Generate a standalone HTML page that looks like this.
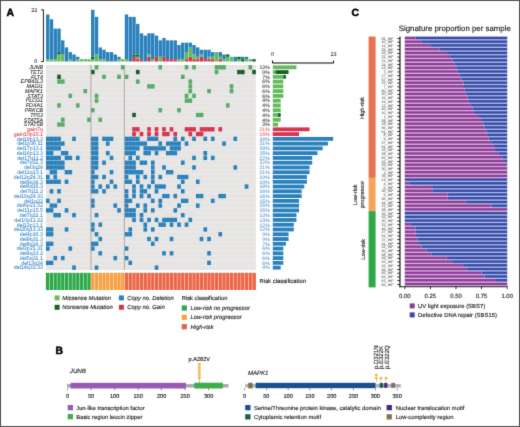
<!DOCTYPE html>
<html><head><meta charset="utf-8"><style>
html,body{margin:0;padding:0;background:#fff;}
svg{display:block;}
#w{width:520px;height:427px;overflow:hidden;will-change:transform;}
text{font-family:"Liberation Sans", sans-serif;text-rendering:geometricPrecision;}
</style></head><body>
<div id="w"><svg width="520" height="427" viewBox="0 0 520 427" font-family='"Liberation Sans", sans-serif'><defs><filter id="b" x="0" y="0" width="520" height="427" filterUnits="userSpaceOnUse" color-interpolation-filters="sRGB"><feConvolveMatrix order="3" kernelMatrix="0.0113 0.0838 0.0113 0.0838 0.6193 0.0838 0.0113 0.0838 0.0113" edgeMode="duplicate"/></filter></defs><g filter="url(#b)"><rect x="0" y="0" width="520" height="427" fill="#fff"/><text x="6.6" y="15.6" font-size="10.4" font-weight="bold" fill="#000" stroke="#000" stroke-width="0.5">A</text><text x="351.6" y="15.8" font-size="10.4" font-weight="bold" fill="#000" stroke="#000" stroke-width="0.5">C</text><text x="55.6" y="354.2" font-size="10.4" font-weight="bold" fill="#000" stroke="#000" stroke-width="0.5">B</text><path d="M41.2 9.8 H43.4 V61.5 H41.2" fill="none" stroke="#000" stroke-width="0.9"/><text x="37.3" y="11.9" font-size="5.4" text-anchor="end" fill="#1e1e1e" stroke="#1e1e1e" stroke-width="0.07">22</text><text x="37.3" y="63.4" font-size="5.4" text-anchor="end" fill="#1e1e1e" stroke="#1e1e1e" stroke-width="0.07">0</text><rect x="46.05" y="59.15" width="3.40" height="2.35" fill="#62bc5c"/><rect x="46.05" y="14.50" width="3.40" height="44.65" fill="#2a81bc"/><rect x="49.80" y="59.15" width="3.40" height="2.35" fill="#62bc5c"/><rect x="49.80" y="19.20" width="3.40" height="39.95" fill="#2a81bc"/><rect x="53.55" y="59.15" width="3.40" height="2.35" fill="#62bc5c"/><rect x="53.55" y="28.60" width="3.40" height="30.55" fill="#2a81bc"/><rect x="57.30" y="54.45" width="3.40" height="7.05" fill="#62bc5c"/><rect x="57.30" y="52.10" width="3.40" height="2.35" fill="#1b5e2a"/><rect x="57.30" y="28.60" width="3.40" height="23.50" fill="#2a81bc"/><rect x="61.05" y="54.45" width="3.40" height="7.05" fill="#62bc5c"/><rect x="61.05" y="40.35" width="3.40" height="14.10" fill="#2a81bc"/><rect x="64.80" y="47.40" width="3.40" height="14.10" fill="#2a81bc"/><rect x="68.55" y="59.15" width="3.40" height="2.35" fill="#62bc5c"/><rect x="68.55" y="52.10" width="3.40" height="7.05" fill="#2a81bc"/><rect x="72.30" y="54.45" width="3.40" height="7.05" fill="#2a81bc"/><rect x="76.05" y="59.15" width="3.40" height="2.35" fill="#62bc5c"/><rect x="76.05" y="56.80" width="3.40" height="2.35" fill="#2a81bc"/><rect x="79.80" y="59.15" width="3.40" height="2.35" fill="#62bc5c"/><rect x="83.55" y="59.15" width="3.40" height="2.35" fill="#62bc5c"/><rect x="87.30" y="59.15" width="3.40" height="2.35" fill="#62bc5c"/><rect x="91.05" y="59.15" width="3.40" height="2.35" fill="#62bc5c"/><rect x="91.05" y="56.80" width="3.40" height="2.35" fill="#1b5e2a"/><rect x="91.05" y="9.80" width="3.40" height="47.00" fill="#2a81bc"/><rect x="94.80" y="54.45" width="3.40" height="7.05" fill="#62bc5c"/><rect x="94.80" y="16.85" width="3.40" height="37.60" fill="#2a81bc"/><rect x="98.55" y="59.15" width="3.40" height="2.35" fill="#62bc5c"/><rect x="98.55" y="47.40" width="3.40" height="11.75" fill="#2a81bc"/><rect x="102.30" y="59.15" width="3.40" height="2.35" fill="#62bc5c"/><rect x="102.30" y="49.75" width="3.40" height="9.40" fill="#2a81bc"/><rect x="106.05" y="52.10" width="3.40" height="9.40" fill="#2a81bc"/><rect x="109.80" y="52.10" width="3.40" height="9.40" fill="#2a81bc"/><rect x="113.55" y="54.45" width="3.40" height="7.05" fill="#2a81bc"/><rect x="117.30" y="59.15" width="3.40" height="2.35" fill="#62bc5c"/><rect x="117.30" y="56.80" width="3.40" height="2.35" fill="#2a81bc"/><rect x="121.05" y="59.15" width="3.40" height="2.35" fill="#62bc5c"/><rect x="124.80" y="59.15" width="3.40" height="2.35" fill="#62bc5c"/><rect x="124.80" y="14.50" width="3.40" height="44.65" fill="#2a81bc"/><rect x="128.55" y="16.85" width="3.40" height="44.65" fill="#2a81bc"/><rect x="132.30" y="56.80" width="3.40" height="4.70" fill="#d9334e"/><rect x="132.30" y="54.45" width="3.40" height="2.35" fill="#1b5e2a"/><rect x="132.30" y="16.85" width="3.40" height="37.60" fill="#2a81bc"/><rect x="136.05" y="59.15" width="3.40" height="2.35" fill="#d9334e"/><rect x="136.05" y="56.80" width="3.40" height="2.35" fill="#62bc5c"/><rect x="136.05" y="54.45" width="3.40" height="2.35" fill="#1b5e2a"/><rect x="136.05" y="23.90" width="3.40" height="30.55" fill="#2a81bc"/><rect x="139.80" y="59.15" width="3.40" height="2.35" fill="#d9334e"/><rect x="139.80" y="33.30" width="3.40" height="25.85" fill="#2a81bc"/><rect x="143.55" y="35.65" width="3.40" height="25.85" fill="#2a81bc"/><rect x="147.30" y="56.80" width="3.40" height="4.70" fill="#d9334e"/><rect x="147.30" y="54.45" width="3.40" height="2.35" fill="#62bc5c"/><rect x="147.30" y="33.30" width="3.40" height="21.15" fill="#2a81bc"/><rect x="151.05" y="59.15" width="3.40" height="2.35" fill="#62bc5c"/><rect x="151.05" y="33.30" width="3.40" height="25.85" fill="#2a81bc"/><rect x="154.80" y="56.80" width="3.40" height="4.70" fill="#d9334e"/><rect x="154.80" y="35.65" width="3.40" height="21.15" fill="#2a81bc"/><rect x="158.55" y="56.80" width="3.40" height="4.70" fill="#62bc5c"/><rect x="158.55" y="40.35" width="3.40" height="16.45" fill="#2a81bc"/><rect x="162.30" y="56.80" width="3.40" height="4.70" fill="#d9334e"/><rect x="162.30" y="38.00" width="3.40" height="18.80" fill="#2a81bc"/><rect x="166.05" y="59.15" width="3.40" height="2.35" fill="#d9334e"/><rect x="166.05" y="40.35" width="3.40" height="18.80" fill="#2a81bc"/><rect x="169.80" y="59.15" width="3.40" height="2.35" fill="#d9334e"/><rect x="169.80" y="40.35" width="3.40" height="18.80" fill="#2a81bc"/><rect x="173.55" y="59.15" width="3.40" height="2.35" fill="#d9334e"/><rect x="173.55" y="40.35" width="3.40" height="18.80" fill="#2a81bc"/><rect x="177.30" y="59.15" width="3.40" height="2.35" fill="#62bc5c"/><rect x="177.30" y="45.05" width="3.40" height="14.10" fill="#2a81bc"/><rect x="181.05" y="59.15" width="3.40" height="2.35" fill="#62bc5c"/><rect x="181.05" y="42.70" width="3.40" height="16.45" fill="#2a81bc"/><rect x="184.80" y="59.15" width="3.40" height="2.35" fill="#d9334e"/><rect x="184.80" y="52.10" width="3.40" height="7.05" fill="#62bc5c"/><rect x="184.80" y="42.70" width="3.40" height="9.40" fill="#2a81bc"/><rect x="188.55" y="56.80" width="3.40" height="4.70" fill="#d9334e"/><rect x="188.55" y="47.40" width="3.40" height="9.40" fill="#62bc5c"/><rect x="188.55" y="42.70" width="3.40" height="4.70" fill="#2a81bc"/><rect x="192.30" y="59.15" width="3.40" height="2.35" fill="#d9334e"/><rect x="192.30" y="54.45" width="3.40" height="4.70" fill="#62bc5c"/><rect x="192.30" y="45.05" width="3.40" height="9.40" fill="#2a81bc"/><rect x="196.05" y="59.15" width="3.40" height="2.35" fill="#d9334e"/><rect x="196.05" y="56.80" width="3.40" height="2.35" fill="#62bc5c"/><rect x="196.05" y="47.40" width="3.40" height="9.40" fill="#2a81bc"/><rect x="199.80" y="56.80" width="3.40" height="4.70" fill="#d9334e"/><rect x="199.80" y="54.45" width="3.40" height="2.35" fill="#62bc5c"/><rect x="199.80" y="49.75" width="3.40" height="4.70" fill="#2a81bc"/><rect x="203.55" y="59.15" width="3.40" height="2.35" fill="#d9334e"/><rect x="203.55" y="49.75" width="3.40" height="9.40" fill="#2a81bc"/><rect x="207.30" y="59.15" width="3.40" height="2.35" fill="#d9334e"/><rect x="207.30" y="56.80" width="3.40" height="2.35" fill="#62bc5c"/><rect x="207.30" y="49.75" width="3.40" height="7.05" fill="#2a81bc"/><rect x="211.05" y="59.15" width="3.40" height="2.35" fill="#d9334e"/><rect x="211.05" y="56.80" width="3.40" height="2.35" fill="#62bc5c"/><rect x="211.05" y="52.10" width="3.40" height="4.70" fill="#2a81bc"/><rect x="214.80" y="52.10" width="3.40" height="9.40" fill="#62bc5c"/><rect x="218.55" y="59.15" width="3.40" height="2.35" fill="#d9334e"/><rect x="218.55" y="56.80" width="3.40" height="2.35" fill="#62bc5c"/><rect x="218.55" y="52.10" width="3.40" height="4.70" fill="#2a81bc"/><rect x="222.30" y="59.15" width="3.40" height="2.35" fill="#62bc5c"/><rect x="222.30" y="54.45" width="3.40" height="4.70" fill="#2a81bc"/><rect x="226.05" y="56.80" width="3.40" height="4.70" fill="#62bc5c"/><rect x="226.05" y="54.45" width="3.40" height="2.35" fill="#1b5e2a"/><rect x="229.80" y="56.80" width="3.40" height="4.70" fill="#62bc5c"/><rect x="233.55" y="56.80" width="3.40" height="4.70" fill="#2a81bc"/><rect x="237.30" y="59.15" width="3.40" height="2.35" fill="#62bc5c"/><rect x="237.30" y="56.80" width="3.40" height="2.35" fill="#1b5e2a"/><rect x="241.05" y="59.15" width="3.40" height="2.35" fill="#1b5e2a"/><rect x="241.05" y="56.80" width="3.40" height="2.35" fill="#2a81bc"/><rect x="244.80" y="59.15" width="3.40" height="2.35" fill="#62bc5c"/><rect x="244.80" y="56.80" width="3.40" height="2.35" fill="#2a81bc"/><rect x="248.55" y="59.15" width="3.40" height="2.35" fill="#62bc5c"/><rect x="252.30" y="59.15" width="3.40" height="2.35" fill="#1b5e2a"/><rect x="45.9" y="64.9" width="210.00" height="205.11" fill="#e6e5e4"/><rect x="45.9" y="69.37" width="210.00" height="0.6" fill="#eeedec"/><rect x="45.9" y="74.14" width="210.00" height="0.6" fill="#eeedec"/><rect x="45.9" y="78.91" width="210.00" height="0.6" fill="#eeedec"/><rect x="45.9" y="83.68" width="210.00" height="0.6" fill="#eeedec"/><rect x="45.9" y="88.45" width="210.00" height="0.6" fill="#eeedec"/><rect x="45.9" y="93.22" width="210.00" height="0.6" fill="#eeedec"/><rect x="45.9" y="97.99" width="210.00" height="0.6" fill="#eeedec"/><rect x="45.9" y="102.76" width="210.00" height="0.6" fill="#eeedec"/><rect x="45.9" y="107.53" width="210.00" height="0.6" fill="#eeedec"/><rect x="45.9" y="112.30" width="210.00" height="0.6" fill="#eeedec"/><rect x="45.9" y="117.07" width="210.00" height="0.6" fill="#eeedec"/><rect x="45.9" y="121.84" width="210.00" height="0.6" fill="#eeedec"/><rect x="45.9" y="126.61" width="210.00" height="0.6" fill="#eeedec"/><rect x="45.9" y="131.38" width="210.00" height="0.6" fill="#eeedec"/><rect x="45.9" y="136.15" width="210.00" height="0.6" fill="#eeedec"/><rect x="45.9" y="140.92" width="210.00" height="0.6" fill="#eeedec"/><rect x="45.9" y="145.69" width="210.00" height="0.6" fill="#eeedec"/><rect x="45.9" y="150.46" width="210.00" height="0.6" fill="#eeedec"/><rect x="45.9" y="155.23" width="210.00" height="0.6" fill="#eeedec"/><rect x="45.9" y="160.00" width="210.00" height="0.6" fill="#eeedec"/><rect x="45.9" y="164.77" width="210.00" height="0.6" fill="#eeedec"/><rect x="45.9" y="169.54" width="210.00" height="0.6" fill="#eeedec"/><rect x="45.9" y="174.31" width="210.00" height="0.6" fill="#eeedec"/><rect x="45.9" y="179.08" width="210.00" height="0.6" fill="#eeedec"/><rect x="45.9" y="183.85" width="210.00" height="0.6" fill="#eeedec"/><rect x="45.9" y="188.62" width="210.00" height="0.6" fill="#eeedec"/><rect x="45.9" y="193.39" width="210.00" height="0.6" fill="#eeedec"/><rect x="45.9" y="198.16" width="210.00" height="0.6" fill="#eeedec"/><rect x="45.9" y="202.93" width="210.00" height="0.6" fill="#eeedec"/><rect x="45.9" y="207.70" width="210.00" height="0.6" fill="#eeedec"/><rect x="45.9" y="212.47" width="210.00" height="0.6" fill="#eeedec"/><rect x="45.9" y="217.24" width="210.00" height="0.6" fill="#eeedec"/><rect x="45.9" y="222.01" width="210.00" height="0.6" fill="#eeedec"/><rect x="45.9" y="226.78" width="210.00" height="0.6" fill="#eeedec"/><rect x="45.9" y="231.55" width="210.00" height="0.6" fill="#eeedec"/><rect x="45.9" y="236.32" width="210.00" height="0.6" fill="#eeedec"/><rect x="45.9" y="241.09" width="210.00" height="0.6" fill="#eeedec"/><rect x="45.9" y="245.86" width="210.00" height="0.6" fill="#eeedec"/><rect x="45.9" y="250.63" width="210.00" height="0.6" fill="#eeedec"/><rect x="45.9" y="255.40" width="210.00" height="0.6" fill="#eeedec"/><rect x="45.9" y="260.17" width="210.00" height="0.6" fill="#eeedec"/><rect x="45.9" y="264.94" width="210.00" height="0.6" fill="#eeedec"/><rect x="94.70" y="65.10" width="3.65" height="4.37" fill="#58ab67"/><rect x="120.95" y="65.10" width="3.65" height="4.37" fill="#58ab67"/><rect x="158.45" y="65.10" width="3.65" height="4.37" fill="#58ab67"/><rect x="184.70" y="65.10" width="3.65" height="4.37" fill="#58ab67"/><rect x="192.20" y="65.10" width="3.65" height="4.37" fill="#58ab67"/><rect x="214.70" y="65.10" width="11.15" height="4.37" fill="#58ab67"/><rect x="218.20" y="65.10" width="0.4" height="4.37" fill="#fff" fill-opacity="0.18"/><rect x="221.95" y="65.10" width="0.4" height="4.37" fill="#fff" fill-opacity="0.18"/><rect x="248.45" y="65.10" width="3.65" height="4.37" fill="#58ab67"/><rect x="214.70" y="69.87" width="3.65" height="4.37" fill="#58ab67"/><rect x="90.95" y="69.87" width="3.65" height="4.37" fill="#1b5e2a"/><rect x="135.95" y="69.87" width="3.65" height="4.37" fill="#1b5e2a"/><rect x="237.20" y="69.87" width="7.40" height="4.37" fill="#1b5e2a"/><rect x="240.70" y="69.87" width="0.4" height="4.37" fill="#fff" fill-opacity="0.18"/><rect x="252.20" y="69.87" width="3.65" height="4.37" fill="#1b5e2a"/><rect x="102.20" y="74.64" width="3.65" height="4.37" fill="#58ab67"/><rect x="117.20" y="74.64" width="3.65" height="4.37" fill="#58ab67"/><rect x="124.70" y="74.64" width="3.65" height="4.37" fill="#58ab67"/><rect x="180.95" y="74.64" width="3.65" height="4.37" fill="#58ab67"/><rect x="57.20" y="74.64" width="3.65" height="4.37" fill="#1b5e2a"/><rect x="57.20" y="79.41" width="7.40" height="4.37" fill="#58ab67"/><rect x="60.70" y="79.41" width="0.4" height="4.37" fill="#fff" fill-opacity="0.18"/><rect x="135.95" y="79.41" width="3.65" height="4.37" fill="#58ab67"/><rect x="188.45" y="79.41" width="3.65" height="4.37" fill="#58ab67"/><rect x="147.20" y="84.18" width="7.40" height="4.37" fill="#58ab67"/><rect x="150.70" y="84.18" width="0.4" height="4.37" fill="#fff" fill-opacity="0.18"/><rect x="188.45" y="84.18" width="3.65" height="4.37" fill="#58ab67"/><rect x="229.70" y="84.18" width="3.65" height="4.37" fill="#58ab67"/><rect x="83.45" y="88.95" width="3.65" height="4.37" fill="#58ab67"/><rect x="188.45" y="88.95" width="3.65" height="4.37" fill="#58ab67"/><rect x="207.20" y="88.95" width="3.65" height="4.37" fill="#58ab67"/><rect x="229.70" y="88.95" width="3.65" height="4.37" fill="#58ab67"/><rect x="68.45" y="93.72" width="3.65" height="4.37" fill="#58ab67"/><rect x="94.70" y="93.72" width="3.65" height="4.37" fill="#58ab67"/><rect x="184.70" y="93.72" width="3.65" height="4.37" fill="#58ab67"/><rect x="192.20" y="93.72" width="3.65" height="4.37" fill="#58ab67"/><rect x="94.70" y="98.49" width="3.65" height="4.37" fill="#58ab67"/><rect x="184.70" y="98.49" width="7.40" height="4.37" fill="#58ab67"/><rect x="188.20" y="98.49" width="0.4" height="4.37" fill="#fff" fill-opacity="0.18"/><rect x="57.20" y="103.26" width="3.65" height="4.37" fill="#58ab67"/><rect x="75.95" y="103.26" width="3.65" height="4.37" fill="#58ab67"/><rect x="225.95" y="103.26" width="3.65" height="4.37" fill="#58ab67"/><rect x="90.95" y="108.03" width="3.65" height="4.37" fill="#58ab67"/><rect x="158.45" y="108.03" width="3.65" height="4.37" fill="#58ab67"/><rect x="177.20" y="108.03" width="3.65" height="4.37" fill="#58ab67"/><rect x="195.95" y="112.80" width="7.40" height="4.37" fill="#58ab67"/><rect x="199.45" y="112.80" width="0.4" height="4.37" fill="#fff" fill-opacity="0.18"/><rect x="132.20" y="112.80" width="3.65" height="4.37" fill="#1b5e2a"/><rect x="60.95" y="117.57" width="3.65" height="4.37" fill="#58ab67"/><rect x="87.20" y="117.57" width="3.65" height="4.37" fill="#58ab67"/><rect x="98.45" y="117.57" width="3.65" height="4.37" fill="#58ab67"/><rect x="57.20" y="122.34" width="7.40" height="4.37" fill="#58ab67"/><rect x="60.70" y="122.34" width="0.4" height="4.37" fill="#fff" fill-opacity="0.18"/><rect x="132.20" y="127.11" width="7.40" height="4.37" fill="#d9334e"/><rect x="135.70" y="127.11" width="0.4" height="4.37" fill="#fff" fill-opacity="0.18"/><rect x="147.20" y="127.11" width="3.65" height="4.37" fill="#d9334e"/><rect x="154.70" y="127.11" width="3.65" height="4.37" fill="#d9334e"/><rect x="162.20" y="127.11" width="3.65" height="4.37" fill="#d9334e"/><rect x="169.70" y="127.11" width="3.65" height="4.37" fill="#d9334e"/><rect x="184.70" y="127.11" width="11.15" height="4.37" fill="#d9334e"/><rect x="188.20" y="127.11" width="0.4" height="4.37" fill="#fff" fill-opacity="0.18"/><rect x="191.95" y="127.11" width="0.4" height="4.37" fill="#fff" fill-opacity="0.18"/><rect x="199.70" y="127.11" width="14.90" height="4.37" fill="#d9334e"/><rect x="203.20" y="127.11" width="0.4" height="4.37" fill="#fff" fill-opacity="0.18"/><rect x="206.95" y="127.11" width="0.4" height="4.37" fill="#fff" fill-opacity="0.18"/><rect x="210.70" y="127.11" width="0.4" height="4.37" fill="#fff" fill-opacity="0.18"/><rect x="218.45" y="127.11" width="3.65" height="4.37" fill="#d9334e"/><rect x="132.20" y="131.88" width="3.65" height="4.37" fill="#d9334e"/><rect x="139.70" y="131.88" width="3.65" height="4.37" fill="#d9334e"/><rect x="147.20" y="131.88" width="3.65" height="4.37" fill="#d9334e"/><rect x="154.70" y="131.88" width="3.65" height="4.37" fill="#d9334e"/><rect x="162.20" y="131.88" width="7.40" height="4.37" fill="#d9334e"/><rect x="165.70" y="131.88" width="0.4" height="4.37" fill="#fff" fill-opacity="0.18"/><rect x="173.45" y="131.88" width="3.65" height="4.37" fill="#d9334e"/><rect x="188.45" y="131.88" width="3.65" height="4.37" fill="#d9334e"/><rect x="195.95" y="131.88" width="7.40" height="4.37" fill="#d9334e"/><rect x="199.45" y="131.88" width="0.4" height="4.37" fill="#fff" fill-opacity="0.18"/><rect x="45.95" y="136.65" width="14.90" height="4.37" fill="#2a81bc"/><rect x="49.45" y="136.65" width="0.4" height="4.37" fill="#fff" fill-opacity="0.18"/><rect x="53.20" y="136.65" width="0.4" height="4.37" fill="#fff" fill-opacity="0.18"/><rect x="56.95" y="136.65" width="0.4" height="4.37" fill="#fff" fill-opacity="0.18"/><rect x="72.20" y="136.65" width="3.65" height="4.37" fill="#2a81bc"/><rect x="90.95" y="136.65" width="7.40" height="4.37" fill="#2a81bc"/><rect x="94.45" y="136.65" width="0.4" height="4.37" fill="#fff" fill-opacity="0.18"/><rect x="102.20" y="136.65" width="11.15" height="4.37" fill="#2a81bc"/><rect x="105.70" y="136.65" width="0.4" height="4.37" fill="#fff" fill-opacity="0.18"/><rect x="109.45" y="136.65" width="0.4" height="4.37" fill="#fff" fill-opacity="0.18"/><rect x="124.70" y="136.65" width="14.90" height="4.37" fill="#2a81bc"/><rect x="128.20" y="136.65" width="0.4" height="4.37" fill="#fff" fill-opacity="0.18"/><rect x="131.95" y="136.65" width="0.4" height="4.37" fill="#fff" fill-opacity="0.18"/><rect x="135.70" y="136.65" width="0.4" height="4.37" fill="#fff" fill-opacity="0.18"/><rect x="147.20" y="136.65" width="11.15" height="4.37" fill="#2a81bc"/><rect x="150.70" y="136.65" width="0.4" height="4.37" fill="#fff" fill-opacity="0.18"/><rect x="154.45" y="136.65" width="0.4" height="4.37" fill="#fff" fill-opacity="0.18"/><rect x="173.45" y="136.65" width="3.65" height="4.37" fill="#2a81bc"/><rect x="180.95" y="136.65" width="3.65" height="4.37" fill="#2a81bc"/><rect x="192.20" y="136.65" width="3.65" height="4.37" fill="#2a81bc"/><rect x="203.45" y="136.65" width="3.65" height="4.37" fill="#2a81bc"/><rect x="210.95" y="136.65" width="3.65" height="4.37" fill="#2a81bc"/><rect x="233.45" y="136.65" width="3.65" height="4.37" fill="#2a81bc"/><rect x="45.95" y="141.42" width="18.65" height="4.37" fill="#2a81bc"/><rect x="49.45" y="141.42" width="0.4" height="4.37" fill="#fff" fill-opacity="0.18"/><rect x="53.20" y="141.42" width="0.4" height="4.37" fill="#fff" fill-opacity="0.18"/><rect x="56.95" y="141.42" width="0.4" height="4.37" fill="#fff" fill-opacity="0.18"/><rect x="60.70" y="141.42" width="0.4" height="4.37" fill="#fff" fill-opacity="0.18"/><rect x="90.95" y="141.42" width="7.40" height="4.37" fill="#2a81bc"/><rect x="94.45" y="141.42" width="0.4" height="4.37" fill="#fff" fill-opacity="0.18"/><rect x="105.95" y="141.42" width="3.65" height="4.37" fill="#2a81bc"/><rect x="124.70" y="141.42" width="22.40" height="4.37" fill="#2a81bc"/><rect x="128.20" y="141.42" width="0.4" height="4.37" fill="#fff" fill-opacity="0.18"/><rect x="131.95" y="141.42" width="0.4" height="4.37" fill="#fff" fill-opacity="0.18"/><rect x="135.70" y="141.42" width="0.4" height="4.37" fill="#fff" fill-opacity="0.18"/><rect x="139.45" y="141.42" width="0.4" height="4.37" fill="#fff" fill-opacity="0.18"/><rect x="143.20" y="141.42" width="0.4" height="4.37" fill="#fff" fill-opacity="0.18"/><rect x="158.45" y="141.42" width="3.65" height="4.37" fill="#2a81bc"/><rect x="165.95" y="141.42" width="14.90" height="4.37" fill="#2a81bc"/><rect x="169.45" y="141.42" width="0.4" height="4.37" fill="#fff" fill-opacity="0.18"/><rect x="173.20" y="141.42" width="0.4" height="4.37" fill="#fff" fill-opacity="0.18"/><rect x="176.95" y="141.42" width="0.4" height="4.37" fill="#fff" fill-opacity="0.18"/><rect x="184.70" y="141.42" width="3.65" height="4.37" fill="#2a81bc"/><rect x="222.20" y="141.42" width="3.65" height="4.37" fill="#2a81bc"/><rect x="45.95" y="146.19" width="14.90" height="4.37" fill="#2a81bc"/><rect x="49.45" y="146.19" width="0.4" height="4.37" fill="#fff" fill-opacity="0.18"/><rect x="53.20" y="146.19" width="0.4" height="4.37" fill="#fff" fill-opacity="0.18"/><rect x="56.95" y="146.19" width="0.4" height="4.37" fill="#fff" fill-opacity="0.18"/><rect x="90.95" y="146.19" width="7.40" height="4.37" fill="#2a81bc"/><rect x="94.45" y="146.19" width="0.4" height="4.37" fill="#fff" fill-opacity="0.18"/><rect x="124.70" y="146.19" width="14.90" height="4.37" fill="#2a81bc"/><rect x="128.20" y="146.19" width="0.4" height="4.37" fill="#fff" fill-opacity="0.18"/><rect x="131.95" y="146.19" width="0.4" height="4.37" fill="#fff" fill-opacity="0.18"/><rect x="135.70" y="146.19" width="0.4" height="4.37" fill="#fff" fill-opacity="0.18"/><rect x="143.45" y="146.19" width="22.40" height="4.37" fill="#2a81bc"/><rect x="146.95" y="146.19" width="0.4" height="4.37" fill="#fff" fill-opacity="0.18"/><rect x="150.70" y="146.19" width="0.4" height="4.37" fill="#fff" fill-opacity="0.18"/><rect x="154.45" y="146.19" width="0.4" height="4.37" fill="#fff" fill-opacity="0.18"/><rect x="158.20" y="146.19" width="0.4" height="4.37" fill="#fff" fill-opacity="0.18"/><rect x="161.95" y="146.19" width="0.4" height="4.37" fill="#fff" fill-opacity="0.18"/><rect x="169.70" y="146.19" width="11.15" height="4.37" fill="#2a81bc"/><rect x="173.20" y="146.19" width="0.4" height="4.37" fill="#fff" fill-opacity="0.18"/><rect x="176.95" y="146.19" width="0.4" height="4.37" fill="#fff" fill-opacity="0.18"/><rect x="45.95" y="150.96" width="7.40" height="4.37" fill="#2a81bc"/><rect x="49.45" y="150.96" width="0.4" height="4.37" fill="#fff" fill-opacity="0.18"/><rect x="60.95" y="150.96" width="7.40" height="4.37" fill="#2a81bc"/><rect x="64.45" y="150.96" width="0.4" height="4.37" fill="#fff" fill-opacity="0.18"/><rect x="90.95" y="150.96" width="7.40" height="4.37" fill="#2a81bc"/><rect x="94.45" y="150.96" width="0.4" height="4.37" fill="#fff" fill-opacity="0.18"/><rect x="105.95" y="150.96" width="3.65" height="4.37" fill="#2a81bc"/><rect x="124.70" y="150.96" width="11.15" height="4.37" fill="#2a81bc"/><rect x="128.20" y="150.96" width="0.4" height="4.37" fill="#fff" fill-opacity="0.18"/><rect x="131.95" y="150.96" width="0.4" height="4.37" fill="#fff" fill-opacity="0.18"/><rect x="143.45" y="150.96" width="7.40" height="4.37" fill="#2a81bc"/><rect x="146.95" y="150.96" width="0.4" height="4.37" fill="#fff" fill-opacity="0.18"/><rect x="154.70" y="150.96" width="3.65" height="4.37" fill="#2a81bc"/><rect x="165.95" y="150.96" width="11.15" height="4.37" fill="#2a81bc"/><rect x="169.45" y="150.96" width="0.4" height="4.37" fill="#fff" fill-opacity="0.18"/><rect x="173.20" y="150.96" width="0.4" height="4.37" fill="#fff" fill-opacity="0.18"/><rect x="203.45" y="150.96" width="3.65" height="4.37" fill="#2a81bc"/><rect x="45.95" y="155.73" width="14.90" height="4.37" fill="#2a81bc"/><rect x="49.45" y="155.73" width="0.4" height="4.37" fill="#fff" fill-opacity="0.18"/><rect x="53.20" y="155.73" width="0.4" height="4.37" fill="#fff" fill-opacity="0.18"/><rect x="56.95" y="155.73" width="0.4" height="4.37" fill="#fff" fill-opacity="0.18"/><rect x="64.70" y="155.73" width="7.40" height="4.37" fill="#2a81bc"/><rect x="68.20" y="155.73" width="0.4" height="4.37" fill="#fff" fill-opacity="0.18"/><rect x="75.95" y="155.73" width="3.65" height="4.37" fill="#2a81bc"/><rect x="90.95" y="155.73" width="7.40" height="4.37" fill="#2a81bc"/><rect x="94.45" y="155.73" width="0.4" height="4.37" fill="#fff" fill-opacity="0.18"/><rect x="109.70" y="155.73" width="3.65" height="4.37" fill="#2a81bc"/><rect x="128.45" y="155.73" width="3.65" height="4.37" fill="#2a81bc"/><rect x="135.95" y="155.73" width="3.65" height="4.37" fill="#2a81bc"/><rect x="192.20" y="155.73" width="3.65" height="4.37" fill="#2a81bc"/><rect x="203.45" y="155.73" width="3.65" height="4.37" fill="#2a81bc"/><rect x="210.95" y="155.73" width="3.65" height="4.37" fill="#2a81bc"/><rect x="45.95" y="160.50" width="18.65" height="4.37" fill="#2a81bc"/><rect x="49.45" y="160.50" width="0.4" height="4.37" fill="#fff" fill-opacity="0.18"/><rect x="53.20" y="160.50" width="0.4" height="4.37" fill="#fff" fill-opacity="0.18"/><rect x="56.95" y="160.50" width="0.4" height="4.37" fill="#fff" fill-opacity="0.18"/><rect x="60.70" y="160.50" width="0.4" height="4.37" fill="#fff" fill-opacity="0.18"/><rect x="90.95" y="160.50" width="7.40" height="4.37" fill="#2a81bc"/><rect x="94.45" y="160.50" width="0.4" height="4.37" fill="#fff" fill-opacity="0.18"/><rect x="102.20" y="160.50" width="3.65" height="4.37" fill="#2a81bc"/><rect x="124.70" y="160.50" width="11.15" height="4.37" fill="#2a81bc"/><rect x="128.20" y="160.50" width="0.4" height="4.37" fill="#fff" fill-opacity="0.18"/><rect x="131.95" y="160.50" width="0.4" height="4.37" fill="#fff" fill-opacity="0.18"/><rect x="139.70" y="160.50" width="7.40" height="4.37" fill="#2a81bc"/><rect x="143.20" y="160.50" width="0.4" height="4.37" fill="#fff" fill-opacity="0.18"/><rect x="150.95" y="160.50" width="3.65" height="4.37" fill="#2a81bc"/><rect x="180.95" y="160.50" width="3.65" height="4.37" fill="#2a81bc"/><rect x="45.95" y="165.27" width="18.65" height="4.37" fill="#2a81bc"/><rect x="49.45" y="165.27" width="0.4" height="4.37" fill="#fff" fill-opacity="0.18"/><rect x="53.20" y="165.27" width="0.4" height="4.37" fill="#fff" fill-opacity="0.18"/><rect x="56.95" y="165.27" width="0.4" height="4.37" fill="#fff" fill-opacity="0.18"/><rect x="60.70" y="165.27" width="0.4" height="4.37" fill="#fff" fill-opacity="0.18"/><rect x="90.95" y="165.27" width="7.40" height="4.37" fill="#2a81bc"/><rect x="94.45" y="165.27" width="0.4" height="4.37" fill="#fff" fill-opacity="0.18"/><rect x="124.70" y="165.27" width="11.15" height="4.37" fill="#2a81bc"/><rect x="128.20" y="165.27" width="0.4" height="4.37" fill="#fff" fill-opacity="0.18"/><rect x="131.95" y="165.27" width="0.4" height="4.37" fill="#fff" fill-opacity="0.18"/><rect x="150.95" y="165.27" width="3.65" height="4.37" fill="#2a81bc"/><rect x="162.20" y="165.27" width="3.65" height="4.37" fill="#2a81bc"/><rect x="192.20" y="165.27" width="3.65" height="4.37" fill="#2a81bc"/><rect x="233.45" y="165.27" width="3.65" height="4.37" fill="#2a81bc"/><rect x="49.70" y="170.04" width="7.40" height="4.37" fill="#2a81bc"/><rect x="53.20" y="170.04" width="0.4" height="4.37" fill="#fff" fill-opacity="0.18"/><rect x="64.70" y="170.04" width="7.40" height="4.37" fill="#2a81bc"/><rect x="68.20" y="170.04" width="0.4" height="4.37" fill="#fff" fill-opacity="0.18"/><rect x="90.95" y="170.04" width="3.65" height="4.37" fill="#2a81bc"/><rect x="109.70" y="170.04" width="3.65" height="4.37" fill="#2a81bc"/><rect x="124.70" y="170.04" width="18.65" height="4.37" fill="#2a81bc"/><rect x="128.20" y="170.04" width="0.4" height="4.37" fill="#fff" fill-opacity="0.18"/><rect x="131.95" y="170.04" width="0.4" height="4.37" fill="#fff" fill-opacity="0.18"/><rect x="135.70" y="170.04" width="0.4" height="4.37" fill="#fff" fill-opacity="0.18"/><rect x="139.45" y="170.04" width="0.4" height="4.37" fill="#fff" fill-opacity="0.18"/><rect x="150.95" y="170.04" width="3.65" height="4.37" fill="#2a81bc"/><rect x="165.95" y="170.04" width="7.40" height="4.37" fill="#2a81bc"/><rect x="169.45" y="170.04" width="0.4" height="4.37" fill="#fff" fill-opacity="0.18"/><rect x="45.95" y="174.81" width="3.65" height="4.37" fill="#2a81bc"/><rect x="53.45" y="174.81" width="3.65" height="4.37" fill="#2a81bc"/><rect x="90.95" y="174.81" width="7.40" height="4.37" fill="#2a81bc"/><rect x="94.45" y="174.81" width="0.4" height="4.37" fill="#fff" fill-opacity="0.18"/><rect x="102.20" y="174.81" width="3.65" height="4.37" fill="#2a81bc"/><rect x="124.70" y="174.81" width="3.65" height="4.37" fill="#2a81bc"/><rect x="135.95" y="174.81" width="3.65" height="4.37" fill="#2a81bc"/><rect x="143.45" y="174.81" width="3.65" height="4.37" fill="#2a81bc"/><rect x="150.95" y="174.81" width="3.65" height="4.37" fill="#2a81bc"/><rect x="158.45" y="174.81" width="3.65" height="4.37" fill="#2a81bc"/><rect x="177.20" y="174.81" width="11.15" height="4.37" fill="#2a81bc"/><rect x="180.70" y="174.81" width="0.4" height="4.37" fill="#fff" fill-opacity="0.18"/><rect x="184.45" y="174.81" width="0.4" height="4.37" fill="#fff" fill-opacity="0.18"/><rect x="45.95" y="179.58" width="14.90" height="4.37" fill="#2a81bc"/><rect x="49.45" y="179.58" width="0.4" height="4.37" fill="#fff" fill-opacity="0.18"/><rect x="53.20" y="179.58" width="0.4" height="4.37" fill="#fff" fill-opacity="0.18"/><rect x="56.95" y="179.58" width="0.4" height="4.37" fill="#fff" fill-opacity="0.18"/><rect x="64.70" y="179.58" width="3.65" height="4.37" fill="#2a81bc"/><rect x="90.95" y="179.58" width="3.65" height="4.37" fill="#2a81bc"/><rect x="109.70" y="179.58" width="3.65" height="4.37" fill="#2a81bc"/><rect x="124.70" y="179.58" width="7.40" height="4.37" fill="#2a81bc"/><rect x="128.20" y="179.58" width="0.4" height="4.37" fill="#fff" fill-opacity="0.18"/><rect x="135.95" y="179.58" width="3.65" height="4.37" fill="#2a81bc"/><rect x="150.95" y="179.58" width="3.65" height="4.37" fill="#2a81bc"/><rect x="180.95" y="179.58" width="3.65" height="4.37" fill="#2a81bc"/><rect x="195.95" y="179.58" width="3.65" height="4.37" fill="#2a81bc"/><rect x="90.95" y="184.35" width="3.65" height="4.37" fill="#2a81bc"/><rect x="98.45" y="184.35" width="3.65" height="4.37" fill="#2a81bc"/><rect x="105.95" y="184.35" width="3.65" height="4.37" fill="#2a81bc"/><rect x="113.45" y="184.35" width="3.65" height="4.37" fill="#2a81bc"/><rect x="132.20" y="184.35" width="3.65" height="4.37" fill="#2a81bc"/><rect x="139.70" y="184.35" width="3.65" height="4.37" fill="#2a81bc"/><rect x="147.20" y="184.35" width="3.65" height="4.37" fill="#2a81bc"/><rect x="154.70" y="184.35" width="11.15" height="4.37" fill="#2a81bc"/><rect x="158.20" y="184.35" width="0.4" height="4.37" fill="#fff" fill-opacity="0.18"/><rect x="161.95" y="184.35" width="0.4" height="4.37" fill="#fff" fill-opacity="0.18"/><rect x="177.20" y="184.35" width="3.65" height="4.37" fill="#2a81bc"/><rect x="244.70" y="184.35" width="3.65" height="4.37" fill="#2a81bc"/><rect x="49.70" y="189.12" width="3.65" height="4.37" fill="#2a81bc"/><rect x="57.20" y="189.12" width="3.65" height="4.37" fill="#2a81bc"/><rect x="90.95" y="189.12" width="7.40" height="4.37" fill="#2a81bc"/><rect x="94.45" y="189.12" width="0.4" height="4.37" fill="#fff" fill-opacity="0.18"/><rect x="102.20" y="189.12" width="3.65" height="4.37" fill="#2a81bc"/><rect x="124.70" y="189.12" width="3.65" height="4.37" fill="#2a81bc"/><rect x="132.20" y="189.12" width="3.65" height="4.37" fill="#2a81bc"/><rect x="139.70" y="189.12" width="7.40" height="4.37" fill="#2a81bc"/><rect x="143.20" y="189.12" width="0.4" height="4.37" fill="#fff" fill-opacity="0.18"/><rect x="154.70" y="189.12" width="3.65" height="4.37" fill="#2a81bc"/><rect x="180.95" y="189.12" width="3.65" height="4.37" fill="#2a81bc"/><rect x="124.70" y="193.89" width="3.65" height="4.37" fill="#2a81bc"/><rect x="132.20" y="193.89" width="3.65" height="4.37" fill="#2a81bc"/><rect x="139.70" y="193.89" width="3.65" height="4.37" fill="#2a81bc"/><rect x="147.20" y="193.89" width="3.65" height="4.37" fill="#2a81bc"/><rect x="162.20" y="193.89" width="7.40" height="4.37" fill="#2a81bc"/><rect x="165.70" y="193.89" width="0.4" height="4.37" fill="#fff" fill-opacity="0.18"/><rect x="173.45" y="193.89" width="3.65" height="4.37" fill="#2a81bc"/><rect x="195.95" y="193.89" width="7.40" height="4.37" fill="#2a81bc"/><rect x="199.45" y="193.89" width="0.4" height="4.37" fill="#fff" fill-opacity="0.18"/><rect x="218.45" y="193.89" width="7.40" height="4.37" fill="#2a81bc"/><rect x="221.95" y="193.89" width="0.4" height="4.37" fill="#fff" fill-opacity="0.18"/><rect x="45.95" y="198.66" width="3.65" height="4.37" fill="#2a81bc"/><rect x="57.20" y="198.66" width="3.65" height="4.37" fill="#2a81bc"/><rect x="90.95" y="198.66" width="3.65" height="4.37" fill="#2a81bc"/><rect x="124.70" y="198.66" width="7.40" height="4.37" fill="#2a81bc"/><rect x="128.20" y="198.66" width="0.4" height="4.37" fill="#fff" fill-opacity="0.18"/><rect x="150.95" y="198.66" width="3.65" height="4.37" fill="#2a81bc"/><rect x="158.45" y="198.66" width="3.65" height="4.37" fill="#2a81bc"/><rect x="180.95" y="198.66" width="7.40" height="4.37" fill="#2a81bc"/><rect x="184.45" y="198.66" width="0.4" height="4.37" fill="#fff" fill-opacity="0.18"/><rect x="210.95" y="198.66" width="3.65" height="4.37" fill="#2a81bc"/><rect x="49.70" y="203.43" width="7.40" height="4.37" fill="#2a81bc"/><rect x="53.20" y="203.43" width="0.4" height="4.37" fill="#fff" fill-opacity="0.18"/><rect x="90.95" y="203.43" width="3.65" height="4.37" fill="#2a81bc"/><rect x="113.45" y="203.43" width="3.65" height="4.37" fill="#2a81bc"/><rect x="124.70" y="203.43" width="3.65" height="4.37" fill="#2a81bc"/><rect x="135.95" y="203.43" width="3.65" height="4.37" fill="#2a81bc"/><rect x="143.45" y="203.43" width="3.65" height="4.37" fill="#2a81bc"/><rect x="158.45" y="203.43" width="3.65" height="4.37" fill="#2a81bc"/><rect x="177.20" y="203.43" width="3.65" height="4.37" fill="#2a81bc"/><rect x="195.95" y="203.43" width="3.65" height="4.37" fill="#2a81bc"/><rect x="45.95" y="208.20" width="7.40" height="4.37" fill="#2a81bc"/><rect x="49.45" y="208.20" width="0.4" height="4.37" fill="#fff" fill-opacity="0.18"/><rect x="64.70" y="208.20" width="3.65" height="4.37" fill="#2a81bc"/><rect x="117.20" y="208.20" width="3.65" height="4.37" fill="#2a81bc"/><rect x="124.70" y="208.20" width="11.15" height="4.37" fill="#2a81bc"/><rect x="128.20" y="208.20" width="0.4" height="4.37" fill="#fff" fill-opacity="0.18"/><rect x="131.95" y="208.20" width="0.4" height="4.37" fill="#fff" fill-opacity="0.18"/><rect x="143.45" y="208.20" width="3.65" height="4.37" fill="#2a81bc"/><rect x="150.95" y="208.20" width="3.65" height="4.37" fill="#2a81bc"/><rect x="173.45" y="208.20" width="3.65" height="4.37" fill="#2a81bc"/><rect x="53.45" y="212.97" width="7.40" height="4.37" fill="#2a81bc"/><rect x="56.95" y="212.97" width="0.4" height="4.37" fill="#fff" fill-opacity="0.18"/><rect x="72.20" y="212.97" width="3.65" height="4.37" fill="#2a81bc"/><rect x="94.70" y="212.97" width="3.65" height="4.37" fill="#2a81bc"/><rect x="124.70" y="212.97" width="11.15" height="4.37" fill="#2a81bc"/><rect x="128.20" y="212.97" width="0.4" height="4.37" fill="#fff" fill-opacity="0.18"/><rect x="131.95" y="212.97" width="0.4" height="4.37" fill="#fff" fill-opacity="0.18"/><rect x="139.70" y="212.97" width="3.65" height="4.37" fill="#2a81bc"/><rect x="180.95" y="212.97" width="3.65" height="4.37" fill="#2a81bc"/><rect x="132.20" y="217.74" width="3.65" height="4.37" fill="#2a81bc"/><rect x="139.70" y="217.74" width="3.65" height="4.37" fill="#2a81bc"/><rect x="147.20" y="217.74" width="3.65" height="4.37" fill="#2a81bc"/><rect x="154.70" y="217.74" width="3.65" height="4.37" fill="#2a81bc"/><rect x="162.20" y="217.74" width="14.90" height="4.37" fill="#2a81bc"/><rect x="165.70" y="217.74" width="0.4" height="4.37" fill="#fff" fill-opacity="0.18"/><rect x="169.45" y="217.74" width="0.4" height="4.37" fill="#fff" fill-opacity="0.18"/><rect x="173.20" y="217.74" width="0.4" height="4.37" fill="#fff" fill-opacity="0.18"/><rect x="188.45" y="217.74" width="3.65" height="4.37" fill="#2a81bc"/><rect x="90.95" y="222.51" width="3.65" height="4.37" fill="#2a81bc"/><rect x="98.45" y="222.51" width="3.65" height="4.37" fill="#2a81bc"/><rect x="143.45" y="222.51" width="3.65" height="4.37" fill="#2a81bc"/><rect x="158.45" y="222.51" width="7.40" height="4.37" fill="#2a81bc"/><rect x="161.95" y="222.51" width="0.4" height="4.37" fill="#fff" fill-opacity="0.18"/><rect x="169.70" y="222.51" width="3.65" height="4.37" fill="#2a81bc"/><rect x="177.20" y="222.51" width="3.65" height="4.37" fill="#2a81bc"/><rect x="184.70" y="222.51" width="3.65" height="4.37" fill="#2a81bc"/><rect x="45.95" y="227.28" width="7.40" height="4.37" fill="#2a81bc"/><rect x="49.45" y="227.28" width="0.4" height="4.37" fill="#fff" fill-opacity="0.18"/><rect x="64.70" y="227.28" width="3.65" height="4.37" fill="#2a81bc"/><rect x="90.95" y="227.28" width="3.65" height="4.37" fill="#2a81bc"/><rect x="128.45" y="227.28" width="3.65" height="4.37" fill="#2a81bc"/><rect x="143.45" y="227.28" width="3.65" height="4.37" fill="#2a81bc"/><rect x="150.95" y="227.28" width="3.65" height="4.37" fill="#2a81bc"/><rect x="203.45" y="227.28" width="3.65" height="4.37" fill="#2a81bc"/><rect x="45.95" y="232.05" width="7.40" height="4.37" fill="#2a81bc"/><rect x="49.45" y="232.05" width="0.4" height="4.37" fill="#fff" fill-opacity="0.18"/><rect x="94.70" y="232.05" width="3.65" height="4.37" fill="#2a81bc"/><rect x="124.70" y="232.05" width="7.40" height="4.37" fill="#2a81bc"/><rect x="128.20" y="232.05" width="0.4" height="4.37" fill="#fff" fill-opacity="0.18"/><rect x="218.45" y="232.05" width="3.65" height="4.37" fill="#2a81bc"/><rect x="98.45" y="236.82" width="3.65" height="4.37" fill="#2a81bc"/><rect x="147.20" y="236.82" width="3.65" height="4.37" fill="#2a81bc"/><rect x="154.70" y="236.82" width="3.65" height="4.37" fill="#2a81bc"/><rect x="169.70" y="236.82" width="3.65" height="4.37" fill="#2a81bc"/><rect x="199.70" y="236.82" width="3.65" height="4.37" fill="#2a81bc"/><rect x="207.20" y="236.82" width="3.65" height="4.37" fill="#2a81bc"/><rect x="45.95" y="241.59" width="7.40" height="4.37" fill="#2a81bc"/><rect x="49.45" y="241.59" width="0.4" height="4.37" fill="#fff" fill-opacity="0.18"/><rect x="90.95" y="241.59" width="7.40" height="4.37" fill="#2a81bc"/><rect x="94.45" y="241.59" width="0.4" height="4.37" fill="#fff" fill-opacity="0.18"/><rect x="150.95" y="241.59" width="3.65" height="4.37" fill="#2a81bc"/><rect x="45.95" y="246.36" width="3.65" height="4.37" fill="#2a81bc"/><rect x="68.45" y="246.36" width="3.65" height="4.37" fill="#2a81bc"/><rect x="90.95" y="246.36" width="3.65" height="4.37" fill="#2a81bc"/><rect x="124.70" y="246.36" width="3.65" height="4.37" fill="#2a81bc"/><rect x="98.45" y="251.13" width="3.65" height="4.37" fill="#2a81bc"/><rect x="162.20" y="251.13" width="3.65" height="4.37" fill="#2a81bc"/><rect x="169.70" y="251.13" width="3.65" height="4.37" fill="#2a81bc"/><rect x="207.20" y="251.13" width="3.65" height="4.37" fill="#2a81bc"/><rect x="53.45" y="255.90" width="3.65" height="4.37" fill="#2a81bc"/><rect x="60.95" y="255.90" width="3.65" height="4.37" fill="#2a81bc"/><rect x="113.45" y="255.90" width="3.65" height="4.37" fill="#2a81bc"/><rect x="124.70" y="255.90" width="3.65" height="4.37" fill="#2a81bc"/><rect x="45.95" y="260.67" width="7.40" height="4.37" fill="#2a81bc"/><rect x="49.45" y="260.67" width="0.4" height="4.37" fill="#fff" fill-opacity="0.18"/><rect x="128.45" y="260.67" width="3.65" height="4.37" fill="#2a81bc"/><rect x="207.20" y="260.67" width="3.65" height="4.37" fill="#2a81bc"/><rect x="72.20" y="265.44" width="3.65" height="4.37" fill="#2a81bc"/><rect x="94.70" y="265.44" width="3.65" height="4.37" fill="#2a81bc"/><rect x="154.70" y="265.44" width="3.65" height="4.37" fill="#2a81bc"/><rect x="90.55" y="64.9" width="0.8" height="205.11" fill="#9a9a9a"/><rect x="123.90" y="64.9" width="0.8" height="205.11" fill="#9a9a9a"/><text x="43" y="69.09" font-size="5.3" text-anchor="end" fill="#262626" stroke="#262626" stroke-width="0.07" font-style="italic">JUNB</text><text x="43" y="73.86" font-size="5.3" text-anchor="end" fill="#262626" stroke="#262626" stroke-width="0.07" font-style="italic">TET2</text><text x="43" y="78.62" font-size="5.3" text-anchor="end" fill="#262626" stroke="#262626" stroke-width="0.07" font-style="italic">FLT4</text><text x="43" y="83.39" font-size="5.3" text-anchor="end" fill="#262626" stroke="#262626" stroke-width="0.07" font-style="italic">EPB41L3</text><text x="43" y="88.17" font-size="5.3" text-anchor="end" fill="#262626" stroke="#262626" stroke-width="0.07" font-style="italic">MAGI1</text><text x="43" y="92.94" font-size="5.3" text-anchor="end" fill="#262626" stroke="#262626" stroke-width="0.07" font-style="italic">MAPK1</text><text x="43" y="97.70" font-size="5.3" text-anchor="end" fill="#262626" stroke="#262626" stroke-width="0.07" font-style="italic">STAT3</text><text x="43" y="102.48" font-size="5.3" text-anchor="end" fill="#262626" stroke="#262626" stroke-width="0.07" font-style="italic">PLCG1</text><text x="43" y="107.24" font-size="5.3" text-anchor="end" fill="#262626" stroke="#262626" stroke-width="0.07" font-style="italic">FOXA1</text><text x="43" y="112.02" font-size="5.3" text-anchor="end" fill="#262626" stroke="#262626" stroke-width="0.07" font-style="italic">PRKCB</text><text x="43" y="116.78" font-size="5.3" text-anchor="end" fill="#262626" stroke="#262626" stroke-width="0.07" font-style="italic">TP53</text><text x="43" y="121.55" font-size="5.3" text-anchor="end" fill="#262626" stroke="#262626" stroke-width="0.07" font-style="italic">STAT5A</text><text x="43" y="126.33" font-size="5.3" text-anchor="end" fill="#262626" stroke="#262626" stroke-width="0.07" font-style="italic">STAT5B</text><text x="43" y="131.10" font-size="5.3" text-anchor="end" fill="#e03a4a" stroke="#e03a4a" stroke-width="0.07">gain7q</text><text x="43" y="135.87" font-size="5.3" text-anchor="end" fill="#e03a4a" stroke="#e03a4a" stroke-width="0.07">gain10p15.1</text><text x="43" y="140.63" font-size="5.3" text-anchor="end" fill="#3a86c4" stroke="#3a86c4" stroke-width="0.07">del19p13.3</text><text x="43" y="145.41" font-size="5.3" text-anchor="end" fill="#3a86c4" stroke="#3a86c4" stroke-width="0.07">del1p36.11</text><text x="43" y="150.18" font-size="5.3" text-anchor="end" fill="#3a86c4" stroke="#3a86c4" stroke-width="0.07">del17p13.1</text><text x="43" y="154.94" font-size="5.3" text-anchor="end" fill="#3a86c4" stroke="#3a86c4" stroke-width="0.07">del16p13.3</text><text x="43" y="159.72" font-size="5.3" text-anchor="end" fill="#3a86c4" stroke="#3a86c4" stroke-width="0.07">del17q11.2</text><text x="43" y="164.49" font-size="5.3" text-anchor="end" fill="#3a86c4" stroke="#3a86c4" stroke-width="0.07">del7p22.3</text><text x="43" y="169.25" font-size="5.3" text-anchor="end" fill="#3a86c4" stroke="#3a86c4" stroke-width="0.07">del3q29</text><text x="43" y="174.03" font-size="5.3" text-anchor="end" fill="#3a86c4" stroke="#3a86c4" stroke-width="0.07">del11q13.1</text><text x="43" y="178.80" font-size="5.3" text-anchor="end" fill="#3a86c4" stroke="#3a86c4" stroke-width="0.07">del12q24.31</text><text x="43" y="183.56" font-size="5.3" text-anchor="end" fill="#3a86c4" stroke="#3a86c4" stroke-width="0.07">del9q34.3</text><text x="43" y="188.34" font-size="5.3" text-anchor="end" fill="#3a86c4" stroke="#3a86c4" stroke-width="0.07">del6q16.3</text><text x="43" y="193.11" font-size="5.3" text-anchor="end" fill="#3a86c4" stroke="#3a86c4" stroke-width="0.07">del7q11.2</text><text x="43" y="197.88" font-size="5.3" text-anchor="end" fill="#3a86c4" stroke="#3a86c4" stroke-width="0.07">del10q24.33</text><text x="43" y="202.65" font-size="5.3" text-anchor="end" fill="#3a86c4" stroke="#3a86c4" stroke-width="0.07">del1q22</text><text x="43" y="207.41" font-size="5.3" text-anchor="end" fill="#3a86c4" stroke="#3a86c4" stroke-width="0.07">del6p21.32</text><text x="43" y="212.19" font-size="5.3" text-anchor="end" fill="#3a86c4" stroke="#3a86c4" stroke-width="0.07">del11p15.5</text><text x="43" y="216.96" font-size="5.3" text-anchor="end" fill="#3a86c4" stroke="#3a86c4" stroke-width="0.07">del7q22.1</text><text x="43" y="221.72" font-size="5.3" text-anchor="end" fill="#3a86c4" stroke="#3a86c4" stroke-width="0.07">del10p11.22</text><text x="43" y="226.50" font-size="5.3" text-anchor="end" fill="#3a86c4" stroke="#3a86c4" stroke-width="0.07">del12p13.1</text><text x="43" y="231.27" font-size="5.3" text-anchor="end" fill="#3a86c4" stroke="#3a86c4" stroke-width="0.07">del20q13.33</text><text x="43" y="236.03" font-size="5.3" text-anchor="end" fill="#3a86c4" stroke="#3a86c4" stroke-width="0.07">del4p16.3</text><text x="43" y="240.81" font-size="5.3" text-anchor="end" fill="#3a86c4" stroke="#3a86c4" stroke-width="0.07">del9q31.3</text><text x="43" y="245.57" font-size="5.3" text-anchor="end" fill="#3a86c4" stroke="#3a86c4" stroke-width="0.07">del8q24.3</text><text x="43" y="250.34" font-size="5.3" text-anchor="end" fill="#3a86c4" stroke="#3a86c4" stroke-width="0.07">del3p21.31</text><text x="43" y="255.12" font-size="5.3" text-anchor="end" fill="#3a86c4" stroke="#3a86c4" stroke-width="0.07">del4q13.2</text><text x="43" y="259.88" font-size="5.3" text-anchor="end" fill="#3a86c4" stroke="#3a86c4" stroke-width="0.07">del5q31.1</text><text x="43" y="264.66" font-size="5.3" text-anchor="end" fill="#3a86c4" stroke="#3a86c4" stroke-width="0.07">del13q34</text><text x="43" y="269.43" font-size="5.3" text-anchor="end" fill="#3a86c4" stroke="#3a86c4" stroke-width="0.07">del14q32.33</text><text x="269.6" y="69.09" font-size="5" text-anchor="end" fill="#383838" stroke="#383838" stroke-width="0.07">13%</text><text x="269.6" y="73.86" font-size="5" text-anchor="end" fill="#383838" stroke="#383838" stroke-width="0.07">9%</text><text x="269.6" y="78.62" font-size="5" text-anchor="end" fill="#383838" stroke="#383838" stroke-width="0.07">7%</text><text x="269.6" y="83.39" font-size="5" text-anchor="end" fill="#383838" stroke="#383838" stroke-width="0.07">6%</text><text x="269.6" y="88.17" font-size="5" text-anchor="end" fill="#383838" stroke="#383838" stroke-width="0.07">6%</text><text x="269.6" y="92.94" font-size="5" text-anchor="end" fill="#383838" stroke="#383838" stroke-width="0.07">6%</text><text x="269.6" y="97.70" font-size="5" text-anchor="end" fill="#383838" stroke="#383838" stroke-width="0.07">6%</text><text x="269.6" y="102.48" font-size="5" text-anchor="end" fill="#383838" stroke="#383838" stroke-width="0.07">4%</text><text x="269.6" y="107.24" font-size="5" text-anchor="end" fill="#383838" stroke="#383838" stroke-width="0.07">4%</text><text x="269.6" y="112.02" font-size="5" text-anchor="end" fill="#383838" stroke="#383838" stroke-width="0.07">4%</text><text x="269.6" y="116.78" font-size="5" text-anchor="end" fill="#383838" stroke="#383838" stroke-width="0.07">4%</text><text x="269.6" y="121.55" font-size="5" text-anchor="end" fill="#383838" stroke="#383838" stroke-width="0.07">4%</text><text x="269.6" y="126.33" font-size="5" text-anchor="end" fill="#383838" stroke="#383838" stroke-width="0.07">3%</text><text x="269.6" y="131.10" font-size="5" text-anchor="end" fill="#e6606e" stroke="#e6606e" stroke-width="0.07">21%</text><text x="269.6" y="135.87" font-size="5" text-anchor="end" fill="#e6606e" stroke="#e6606e" stroke-width="0.07">15%</text><text x="269.6" y="140.63" font-size="5" text-anchor="end" fill="#5a98cc" stroke="#5a98cc" stroke-width="0.07">34%</text><text x="269.6" y="145.41" font-size="5" text-anchor="end" fill="#5a98cc" stroke="#5a98cc" stroke-width="0.07">31%</text><text x="269.6" y="150.18" font-size="5" text-anchor="end" fill="#5a98cc" stroke="#5a98cc" stroke-width="0.07">28%</text><text x="269.6" y="154.94" font-size="5" text-anchor="end" fill="#5a98cc" stroke="#5a98cc" stroke-width="0.07">25%</text><text x="269.6" y="159.72" font-size="5" text-anchor="end" fill="#5a98cc" stroke="#5a98cc" stroke-width="0.07">22%</text><text x="269.6" y="164.49" font-size="5" text-anchor="end" fill="#5a98cc" stroke="#5a98cc" stroke-width="0.07">22%</text><text x="269.6" y="169.25" font-size="5" text-anchor="end" fill="#5a98cc" stroke="#5a98cc" stroke-width="0.07">21%</text><text x="269.6" y="174.03" font-size="5" text-anchor="end" fill="#5a98cc" stroke="#5a98cc" stroke-width="0.07">21%</text><text x="269.6" y="178.80" font-size="5" text-anchor="end" fill="#5a98cc" stroke="#5a98cc" stroke-width="0.07">19%</text><text x="269.6" y="183.56" font-size="5" text-anchor="end" fill="#5a98cc" stroke="#5a98cc" stroke-width="0.07">19%</text><text x="269.6" y="188.34" font-size="5" text-anchor="end" fill="#5a98cc" stroke="#5a98cc" stroke-width="0.07">18%</text><text x="269.6" y="193.11" font-size="5" text-anchor="end" fill="#5a98cc" stroke="#5a98cc" stroke-width="0.07">16%</text><text x="269.6" y="197.88" font-size="5" text-anchor="end" fill="#5a98cc" stroke="#5a98cc" stroke-width="0.07">16%</text><text x="269.6" y="202.65" font-size="5" text-anchor="end" fill="#5a98cc" stroke="#5a98cc" stroke-width="0.07">15%</text><text x="269.6" y="207.41" font-size="5" text-anchor="end" fill="#5a98cc" stroke="#5a98cc" stroke-width="0.07">15%</text><text x="269.6" y="212.19" font-size="5" text-anchor="end" fill="#5a98cc" stroke="#5a98cc" stroke-width="0.07">15%</text><text x="269.6" y="216.96" font-size="5" text-anchor="end" fill="#5a98cc" stroke="#5a98cc" stroke-width="0.07">13%</text><text x="269.6" y="221.72" font-size="5" text-anchor="end" fill="#5a98cc" stroke="#5a98cc" stroke-width="0.07">13%</text><text x="269.6" y="226.50" font-size="5" text-anchor="end" fill="#5a98cc" stroke="#5a98cc" stroke-width="0.07">12%</text><text x="269.6" y="231.27" font-size="5" text-anchor="end" fill="#5a98cc" stroke="#5a98cc" stroke-width="0.07">12%</text><text x="269.6" y="236.03" font-size="5" text-anchor="end" fill="#5a98cc" stroke="#5a98cc" stroke-width="0.07">9%</text><text x="269.6" y="240.81" font-size="5" text-anchor="end" fill="#5a98cc" stroke="#5a98cc" stroke-width="0.07">9%</text><text x="269.6" y="245.57" font-size="5" text-anchor="end" fill="#5a98cc" stroke="#5a98cc" stroke-width="0.07">7%</text><text x="269.6" y="250.34" font-size="5" text-anchor="end" fill="#5a98cc" stroke="#5a98cc" stroke-width="0.07">6%</text><text x="269.6" y="255.12" font-size="5" text-anchor="end" fill="#5a98cc" stroke="#5a98cc" stroke-width="0.07">6%</text><text x="269.6" y="259.88" font-size="5" text-anchor="end" fill="#5a98cc" stroke="#5a98cc" stroke-width="0.07">6%</text><text x="269.6" y="264.66" font-size="5" text-anchor="end" fill="#5a98cc" stroke="#5a98cc" stroke-width="0.07">6%</text><text x="269.6" y="269.43" font-size="5" text-anchor="end" fill="#5a98cc" stroke="#5a98cc" stroke-width="0.07">4%</text><path d="M272.5 60.6 V63 H333.6 V60.6" fill="none" stroke="#000" stroke-width="1"/><text x="272.5" y="56" font-size="5.4" text-anchor="middle" fill="#1e1e1e" stroke="#1e1e1e" stroke-width="0.07">0</text><text x="333.6" y="56" font-size="5.4" text-anchor="middle" fill="#1e1e1e" stroke="#1e1e1e" stroke-width="0.07">23</text><rect x="272.80" y="65.40" width="23.62" height="3.82" fill="#62bc5c"/><rect x="272.80" y="70.17" width="2.62" height="3.82" fill="#62bc5c"/><rect x="275.43" y="70.17" width="13.12" height="3.82" fill="#1b5e2a"/><rect x="272.80" y="74.94" width="10.50" height="3.82" fill="#62bc5c"/><rect x="283.30" y="74.94" width="2.62" height="3.82" fill="#1b5e2a"/><rect x="272.80" y="79.71" width="10.50" height="3.82" fill="#62bc5c"/><rect x="272.80" y="84.48" width="10.50" height="3.82" fill="#62bc5c"/><rect x="272.80" y="89.25" width="10.50" height="3.82" fill="#62bc5c"/><rect x="272.80" y="94.02" width="10.50" height="3.82" fill="#62bc5c"/><rect x="272.80" y="98.79" width="7.88" height="3.82" fill="#62bc5c"/><rect x="272.80" y="103.56" width="7.88" height="3.82" fill="#62bc5c"/><rect x="272.80" y="108.33" width="7.88" height="3.82" fill="#62bc5c"/><rect x="272.80" y="113.10" width="5.25" height="3.82" fill="#62bc5c"/><rect x="278.05" y="113.10" width="2.62" height="3.82" fill="#1b5e2a"/><rect x="272.80" y="117.87" width="7.88" height="3.82" fill="#62bc5c"/><rect x="272.80" y="122.64" width="5.25" height="3.82" fill="#62bc5c"/><rect x="272.8" y="127.41" width="36.75" height="3.82" fill="#d9334e"/><rect x="272.8" y="132.18" width="26.25" height="3.82" fill="#d9334e"/><rect x="272.8" y="136.95" width="60.38" height="3.82" fill="#2a81bc"/><rect x="272.8" y="141.72" width="55.12" height="3.82" fill="#2a81bc"/><rect x="272.8" y="146.49" width="49.88" height="3.82" fill="#2a81bc"/><rect x="272.8" y="151.26" width="44.62" height="3.82" fill="#2a81bc"/><rect x="272.8" y="156.03" width="39.38" height="3.82" fill="#2a81bc"/><rect x="272.8" y="160.80" width="39.38" height="3.82" fill="#2a81bc"/><rect x="272.8" y="165.57" width="36.75" height="3.82" fill="#2a81bc"/><rect x="272.8" y="170.34" width="36.75" height="3.82" fill="#2a81bc"/><rect x="272.8" y="175.11" width="34.12" height="3.82" fill="#2a81bc"/><rect x="272.8" y="179.88" width="34.12" height="3.82" fill="#2a81bc"/><rect x="272.8" y="184.65" width="31.50" height="3.82" fill="#2a81bc"/><rect x="272.8" y="189.42" width="28.88" height="3.82" fill="#2a81bc"/><rect x="272.8" y="194.19" width="28.88" height="3.82" fill="#2a81bc"/><rect x="272.8" y="198.96" width="26.25" height="3.82" fill="#2a81bc"/><rect x="272.8" y="203.73" width="26.25" height="3.82" fill="#2a81bc"/><rect x="272.8" y="208.50" width="26.25" height="3.82" fill="#2a81bc"/><rect x="272.8" y="213.27" width="23.62" height="3.82" fill="#2a81bc"/><rect x="272.8" y="218.04" width="23.62" height="3.82" fill="#2a81bc"/><rect x="272.8" y="222.81" width="21.00" height="3.82" fill="#2a81bc"/><rect x="272.8" y="227.58" width="21.00" height="3.82" fill="#2a81bc"/><rect x="272.8" y="232.35" width="15.75" height="3.82" fill="#2a81bc"/><rect x="272.8" y="237.12" width="15.75" height="3.82" fill="#2a81bc"/><rect x="272.8" y="241.89" width="13.12" height="3.82" fill="#2a81bc"/><rect x="272.8" y="246.66" width="10.50" height="3.82" fill="#2a81bc"/><rect x="272.8" y="251.43" width="10.50" height="3.82" fill="#2a81bc"/><rect x="272.8" y="256.20" width="10.50" height="3.82" fill="#2a81bc"/><rect x="272.8" y="260.97" width="10.50" height="3.82" fill="#2a81bc"/><rect x="272.8" y="265.74" width="7.88" height="3.82" fill="#2a81bc"/><rect x="45.90" y="272.8" width="3.75" height="17.2" fill="#2ea84a"/><rect x="49.65" y="272.8" width="3.75" height="17.2" fill="#2ea84a"/><rect x="49.25" y="272.8" width="0.8" height="17.2" fill="#fff" fill-opacity="0.45"/><rect x="53.40" y="272.8" width="3.75" height="17.2" fill="#2ea84a"/><rect x="53.00" y="272.8" width="0.8" height="17.2" fill="#fff" fill-opacity="0.45"/><rect x="57.15" y="272.8" width="3.75" height="17.2" fill="#2ea84a"/><rect x="56.75" y="272.8" width="0.8" height="17.2" fill="#fff" fill-opacity="0.45"/><rect x="60.90" y="272.8" width="3.75" height="17.2" fill="#2ea84a"/><rect x="60.50" y="272.8" width="0.8" height="17.2" fill="#fff" fill-opacity="0.45"/><rect x="64.65" y="272.8" width="3.75" height="17.2" fill="#2ea84a"/><rect x="64.25" y="272.8" width="0.8" height="17.2" fill="#fff" fill-opacity="0.45"/><rect x="68.40" y="272.8" width="3.75" height="17.2" fill="#2ea84a"/><rect x="68.00" y="272.8" width="0.8" height="17.2" fill="#fff" fill-opacity="0.45"/><rect x="72.15" y="272.8" width="3.75" height="17.2" fill="#2ea84a"/><rect x="71.75" y="272.8" width="0.8" height="17.2" fill="#fff" fill-opacity="0.45"/><rect x="75.90" y="272.8" width="3.75" height="17.2" fill="#2ea84a"/><rect x="75.50" y="272.8" width="0.8" height="17.2" fill="#fff" fill-opacity="0.45"/><rect x="79.65" y="272.8" width="3.75" height="17.2" fill="#2ea84a"/><rect x="79.25" y="272.8" width="0.8" height="17.2" fill="#fff" fill-opacity="0.45"/><rect x="83.40" y="272.8" width="3.75" height="17.2" fill="#2ea84a"/><rect x="83.00" y="272.8" width="0.8" height="17.2" fill="#fff" fill-opacity="0.45"/><rect x="87.15" y="272.8" width="3.75" height="17.2" fill="#2ea84a"/><rect x="86.75" y="272.8" width="0.8" height="17.2" fill="#fff" fill-opacity="0.45"/><rect x="90.90" y="272.8" width="3.75" height="17.2" fill="#f5a142"/><rect x="90.50" y="272.8" width="0.8" height="17.2" fill="#fff" fill-opacity="0.45"/><rect x="94.65" y="272.8" width="3.75" height="17.2" fill="#f5a142"/><rect x="94.25" y="272.8" width="0.8" height="17.2" fill="#fff" fill-opacity="0.45"/><rect x="98.40" y="272.8" width="3.75" height="17.2" fill="#f5a142"/><rect x="98.00" y="272.8" width="0.8" height="17.2" fill="#fff" fill-opacity="0.45"/><rect x="102.15" y="272.8" width="3.75" height="17.2" fill="#f5a142"/><rect x="101.75" y="272.8" width="0.8" height="17.2" fill="#fff" fill-opacity="0.45"/><rect x="105.90" y="272.8" width="3.75" height="17.2" fill="#f5a142"/><rect x="105.50" y="272.8" width="0.8" height="17.2" fill="#fff" fill-opacity="0.45"/><rect x="109.65" y="272.8" width="3.75" height="17.2" fill="#f5a142"/><rect x="109.25" y="272.8" width="0.8" height="17.2" fill="#fff" fill-opacity="0.45"/><rect x="113.40" y="272.8" width="3.75" height="17.2" fill="#f5a142"/><rect x="113.00" y="272.8" width="0.8" height="17.2" fill="#fff" fill-opacity="0.45"/><rect x="117.15" y="272.8" width="3.75" height="17.2" fill="#f5a142"/><rect x="116.75" y="272.8" width="0.8" height="17.2" fill="#fff" fill-opacity="0.45"/><rect x="120.90" y="272.8" width="3.75" height="17.2" fill="#f5a142"/><rect x="120.50" y="272.8" width="0.8" height="17.2" fill="#fff" fill-opacity="0.45"/><rect x="124.65" y="272.8" width="3.75" height="17.2" fill="#ec6547"/><rect x="124.25" y="272.8" width="0.8" height="17.2" fill="#fff" fill-opacity="0.45"/><rect x="128.40" y="272.8" width="3.75" height="17.2" fill="#ec6547"/><rect x="128.00" y="272.8" width="0.8" height="17.2" fill="#fff" fill-opacity="0.45"/><rect x="132.15" y="272.8" width="3.75" height="17.2" fill="#ec6547"/><rect x="131.75" y="272.8" width="0.8" height="17.2" fill="#fff" fill-opacity="0.45"/><rect x="135.90" y="272.8" width="3.75" height="17.2" fill="#ec6547"/><rect x="135.50" y="272.8" width="0.8" height="17.2" fill="#fff" fill-opacity="0.45"/><rect x="139.65" y="272.8" width="3.75" height="17.2" fill="#ec6547"/><rect x="139.25" y="272.8" width="0.8" height="17.2" fill="#fff" fill-opacity="0.45"/><rect x="143.40" y="272.8" width="3.75" height="17.2" fill="#ec6547"/><rect x="143.00" y="272.8" width="0.8" height="17.2" fill="#fff" fill-opacity="0.45"/><rect x="147.15" y="272.8" width="3.75" height="17.2" fill="#ec6547"/><rect x="146.75" y="272.8" width="0.8" height="17.2" fill="#fff" fill-opacity="0.45"/><rect x="150.90" y="272.8" width="3.75" height="17.2" fill="#ec6547"/><rect x="150.50" y="272.8" width="0.8" height="17.2" fill="#fff" fill-opacity="0.45"/><rect x="154.65" y="272.8" width="3.75" height="17.2" fill="#ec6547"/><rect x="154.25" y="272.8" width="0.8" height="17.2" fill="#fff" fill-opacity="0.45"/><rect x="158.40" y="272.8" width="3.75" height="17.2" fill="#ec6547"/><rect x="158.00" y="272.8" width="0.8" height="17.2" fill="#fff" fill-opacity="0.45"/><rect x="162.15" y="272.8" width="3.75" height="17.2" fill="#ec6547"/><rect x="161.75" y="272.8" width="0.8" height="17.2" fill="#fff" fill-opacity="0.45"/><rect x="165.90" y="272.8" width="3.75" height="17.2" fill="#ec6547"/><rect x="165.50" y="272.8" width="0.8" height="17.2" fill="#fff" fill-opacity="0.45"/><rect x="169.65" y="272.8" width="3.75" height="17.2" fill="#ec6547"/><rect x="169.25" y="272.8" width="0.8" height="17.2" fill="#fff" fill-opacity="0.45"/><rect x="173.40" y="272.8" width="3.75" height="17.2" fill="#ec6547"/><rect x="173.00" y="272.8" width="0.8" height="17.2" fill="#fff" fill-opacity="0.45"/><rect x="177.15" y="272.8" width="3.75" height="17.2" fill="#ec6547"/><rect x="176.75" y="272.8" width="0.8" height="17.2" fill="#fff" fill-opacity="0.45"/><rect x="180.90" y="272.8" width="3.75" height="17.2" fill="#ec6547"/><rect x="180.50" y="272.8" width="0.8" height="17.2" fill="#fff" fill-opacity="0.45"/><rect x="184.65" y="272.8" width="3.75" height="17.2" fill="#ec6547"/><rect x="184.25" y="272.8" width="0.8" height="17.2" fill="#fff" fill-opacity="0.45"/><rect x="188.40" y="272.8" width="3.75" height="17.2" fill="#ec6547"/><rect x="188.00" y="272.8" width="0.8" height="17.2" fill="#fff" fill-opacity="0.45"/><rect x="192.15" y="272.8" width="3.75" height="17.2" fill="#ec6547"/><rect x="191.75" y="272.8" width="0.8" height="17.2" fill="#fff" fill-opacity="0.45"/><rect x="195.90" y="272.8" width="3.75" height="17.2" fill="#ec6547"/><rect x="195.50" y="272.8" width="0.8" height="17.2" fill="#fff" fill-opacity="0.45"/><rect x="199.65" y="272.8" width="3.75" height="17.2" fill="#ec6547"/><rect x="199.25" y="272.8" width="0.8" height="17.2" fill="#fff" fill-opacity="0.45"/><rect x="203.40" y="272.8" width="3.75" height="17.2" fill="#ec6547"/><rect x="203.00" y="272.8" width="0.8" height="17.2" fill="#fff" fill-opacity="0.45"/><rect x="207.15" y="272.8" width="3.75" height="17.2" fill="#ec6547"/><rect x="206.75" y="272.8" width="0.8" height="17.2" fill="#fff" fill-opacity="0.45"/><rect x="210.90" y="272.8" width="3.75" height="17.2" fill="#ec6547"/><rect x="210.50" y="272.8" width="0.8" height="17.2" fill="#fff" fill-opacity="0.45"/><rect x="214.65" y="272.8" width="3.75" height="17.2" fill="#ec6547"/><rect x="214.25" y="272.8" width="0.8" height="17.2" fill="#fff" fill-opacity="0.45"/><rect x="218.40" y="272.8" width="3.75" height="17.2" fill="#ec6547"/><rect x="218.00" y="272.8" width="0.8" height="17.2" fill="#fff" fill-opacity="0.45"/><rect x="222.15" y="272.8" width="3.75" height="17.2" fill="#ec6547"/><rect x="221.75" y="272.8" width="0.8" height="17.2" fill="#fff" fill-opacity="0.45"/><rect x="225.90" y="272.8" width="3.75" height="17.2" fill="#ec6547"/><rect x="225.50" y="272.8" width="0.8" height="17.2" fill="#fff" fill-opacity="0.45"/><rect x="229.65" y="272.8" width="3.75" height="17.2" fill="#ec6547"/><rect x="229.25" y="272.8" width="0.8" height="17.2" fill="#fff" fill-opacity="0.45"/><rect x="233.40" y="272.8" width="3.75" height="17.2" fill="#ec6547"/><rect x="233.00" y="272.8" width="0.8" height="17.2" fill="#fff" fill-opacity="0.45"/><rect x="237.15" y="272.8" width="3.75" height="17.2" fill="#ec6547"/><rect x="236.75" y="272.8" width="0.8" height="17.2" fill="#fff" fill-opacity="0.45"/><rect x="240.90" y="272.8" width="3.75" height="17.2" fill="#ec6547"/><rect x="240.50" y="272.8" width="0.8" height="17.2" fill="#fff" fill-opacity="0.45"/><rect x="244.65" y="272.8" width="3.75" height="17.2" fill="#ec6547"/><rect x="244.25" y="272.8" width="0.8" height="17.2" fill="#fff" fill-opacity="0.45"/><rect x="248.40" y="272.8" width="3.75" height="17.2" fill="#ec6547"/><rect x="248.00" y="272.8" width="0.8" height="17.2" fill="#fff" fill-opacity="0.45"/><rect x="252.15" y="272.8" width="3.75" height="17.2" fill="#ec6547"/><rect x="251.75" y="272.8" width="0.8" height="17.2" fill="#fff" fill-opacity="0.45"/><text x="259.6" y="283.4" font-size="5.9" fill="#222" stroke="#222" stroke-width="0.14">Risk classification</text><rect x="54.6" y="295.4" width="5.0" height="5.0" fill="#6cbd5e"/><text x="62.3" y="299.8" font-size="5.85" font-style="italic" fill="#262626" stroke="#262626" stroke-width="0.14">Missense Mutation</text><rect x="54.6" y="304.8" width="5.0" height="5.0" fill="#1b5e2a"/><text x="62.3" y="309.2" font-size="5.85" font-style="italic" fill="#262626" stroke="#262626" stroke-width="0.14">Nonsense Mutation</text><rect x="118.9" y="295.4" width="5.0" height="5.0" fill="#2a81bc"/><text x="127.3" y="299.8" font-size="5.85" font-style="italic" fill="#262626" stroke="#262626" stroke-width="0.14">Copy no. Deletion</text><rect x="118.9" y="304.8" width="5.0" height="5.0" fill="#d9334e"/><text x="127.3" y="309.2" font-size="5.85" font-style="italic" fill="#262626" stroke="#262626" stroke-width="0.14">Copy no. Gain</text><text x="181.7" y="300.3" font-size="5.8" fill="#222" stroke="#222" stroke-width="0.14">Risk classification</text><rect x="181.7" y="305.4" width="5.2" height="5.2" fill="#2ea84a"/><text x="190.4" y="310.0" font-size="5.85" font-style="italic" fill="#262626" stroke="#262626" stroke-width="0.14">Low-risk no progressor</text><rect x="181.7" y="314.7" width="5.2" height="5.2" fill="#f5a142"/><text x="190.4" y="319.3" font-size="5.85" font-style="italic" fill="#262626" stroke="#262626" stroke-width="0.14">Low-risk progressor</text><rect x="181.7" y="324.1" width="5.2" height="5.2" fill="#e8604c"/><text x="190.4" y="328.6" font-size="5.85" font-style="italic" fill="#262626" stroke="#262626" stroke-width="0.14">High-risk</text><text x="398.7" y="30.7" font-size="7.85" fill="#222" stroke="#222" stroke-width="0.14">Signature proportion per sample</text><rect x="404.8" y="36.55" width="102.4" height="249.71" fill="#fff"/><rect x="404.8" y="36.55" width="10.75" height="3.73" fill="#e0a4e6"/><rect x="404.8" y="36.75" width="10.75" height="2.38" fill="#87428f"/><rect x="415.55" y="36.55" width="91.65" height="3.73" fill="#a4b6f2"/><rect x="415.55" y="36.75" width="91.65" height="2.38" fill="#3a4a9f"/><rect x="397.2" y="38.01" width="2.8" height="0.8" fill="#111"/><text x="393.4" y="39.56" font-size="3.7" text-anchor="end" fill="#333">55_WF</text><rect x="404.8" y="40.28" width="16.38" height="3.73" fill="#e0a4e6"/><rect x="404.8" y="40.48" width="16.38" height="2.38" fill="#87428f"/><rect x="421.18" y="40.28" width="86.02" height="3.73" fill="#a4b6f2"/><rect x="421.18" y="40.48" width="86.02" height="2.38" fill="#3a4a9f"/><rect x="397.2" y="41.74" width="2.8" height="0.8" fill="#111"/><text x="393.4" y="43.29" font-size="3.7" text-anchor="end" fill="#333">10_WF</text><rect x="404.8" y="44.00" width="25.40" height="3.73" fill="#e0a4e6"/><rect x="404.8" y="44.20" width="25.40" height="2.38" fill="#87428f"/><rect x="430.20" y="44.00" width="77.00" height="3.73" fill="#a4b6f2"/><rect x="430.20" y="44.20" width="77.00" height="2.38" fill="#3a4a9f"/><rect x="397.2" y="45.47" width="2.8" height="0.8" fill="#111"/><text x="393.4" y="47.02" font-size="3.7" text-anchor="end" fill="#333">11_WF</text><rect x="404.8" y="47.73" width="34.61" height="3.73" fill="#e0a4e6"/><rect x="404.8" y="47.93" width="34.61" height="2.38" fill="#87428f"/><rect x="439.41" y="47.73" width="67.79" height="3.73" fill="#a4b6f2"/><rect x="439.41" y="47.93" width="67.79" height="2.38" fill="#3a4a9f"/><rect x="397.2" y="49.19" width="2.8" height="0.8" fill="#111"/><text x="393.4" y="50.74" font-size="3.7" text-anchor="end" fill="#333">29_WF</text><rect x="404.8" y="51.46" width="42.29" height="3.73" fill="#e0a4e6"/><rect x="404.8" y="51.66" width="42.29" height="2.38" fill="#87428f"/><rect x="447.09" y="51.46" width="60.11" height="3.73" fill="#a4b6f2"/><rect x="447.09" y="51.66" width="60.11" height="2.38" fill="#3a4a9f"/><rect x="397.2" y="52.92" width="2.8" height="0.8" fill="#111"/><text x="393.4" y="54.47" font-size="3.7" text-anchor="end" fill="#333">24_WF</text><rect x="404.8" y="55.18" width="45.36" height="3.73" fill="#e0a4e6"/><rect x="404.8" y="55.38" width="45.36" height="2.38" fill="#87428f"/><rect x="450.16" y="55.18" width="57.04" height="3.73" fill="#a4b6f2"/><rect x="450.16" y="55.38" width="57.04" height="2.38" fill="#3a4a9f"/><rect x="397.2" y="56.65" width="2.8" height="0.8" fill="#111"/><text x="393.4" y="58.20" font-size="3.7" text-anchor="end" fill="#333">22_WF</text><rect x="404.8" y="58.91" width="47.72" height="3.73" fill="#e0a4e6"/><rect x="404.8" y="59.11" width="47.72" height="2.38" fill="#87428f"/><rect x="452.52" y="58.91" width="54.68" height="3.73" fill="#a4b6f2"/><rect x="452.52" y="59.11" width="54.68" height="2.38" fill="#3a4a9f"/><rect x="397.2" y="60.38" width="2.8" height="0.8" fill="#111"/><text x="393.4" y="61.93" font-size="3.7" text-anchor="end" fill="#333">31_WF</text><rect x="404.8" y="62.64" width="49.97" height="3.73" fill="#e0a4e6"/><rect x="404.8" y="62.84" width="49.97" height="2.38" fill="#87428f"/><rect x="454.77" y="62.64" width="52.43" height="3.73" fill="#a4b6f2"/><rect x="454.77" y="62.84" width="52.43" height="2.38" fill="#3a4a9f"/><rect x="397.2" y="64.10" width="2.8" height="0.8" fill="#111"/><text x="393.4" y="65.65" font-size="3.7" text-anchor="end" fill="#333">34_WF</text><rect x="404.8" y="66.37" width="51.51" height="3.73" fill="#e0a4e6"/><rect x="404.8" y="66.57" width="51.51" height="2.38" fill="#87428f"/><rect x="456.31" y="66.37" width="50.89" height="3.73" fill="#a4b6f2"/><rect x="456.31" y="66.57" width="50.89" height="2.38" fill="#3a4a9f"/><rect x="397.2" y="67.83" width="2.8" height="0.8" fill="#111"/><text x="393.4" y="69.38" font-size="3.7" text-anchor="end" fill="#333">14_WF</text><rect x="404.8" y="70.09" width="53.04" height="3.73" fill="#e0a4e6"/><rect x="404.8" y="70.29" width="53.04" height="2.38" fill="#87428f"/><rect x="457.84" y="70.09" width="49.36" height="3.73" fill="#a4b6f2"/><rect x="457.84" y="70.29" width="49.36" height="2.38" fill="#3a4a9f"/><rect x="397.2" y="71.56" width="2.8" height="0.8" fill="#111"/><text x="393.4" y="73.11" font-size="3.7" text-anchor="end" fill="#333">3_WF</text><rect x="404.8" y="73.82" width="54.58" height="3.73" fill="#e0a4e6"/><rect x="404.8" y="74.02" width="54.58" height="2.38" fill="#87428f"/><rect x="459.38" y="73.82" width="47.82" height="3.73" fill="#a4b6f2"/><rect x="459.38" y="74.02" width="47.82" height="2.38" fill="#3a4a9f"/><rect x="397.2" y="75.28" width="2.8" height="0.8" fill="#111"/><text x="393.4" y="76.83" font-size="3.7" text-anchor="end" fill="#333">17_WF</text><rect x="404.8" y="77.55" width="56.93" height="3.73" fill="#e0a4e6"/><rect x="404.8" y="77.75" width="56.93" height="2.38" fill="#87428f"/><rect x="461.73" y="77.55" width="45.47" height="3.73" fill="#a4b6f2"/><rect x="461.73" y="77.75" width="45.47" height="2.38" fill="#3a4a9f"/><rect x="397.2" y="79.01" width="2.8" height="0.8" fill="#111"/><text x="393.4" y="80.56" font-size="3.7" text-anchor="end" fill="#333">57_WF</text><rect x="404.8" y="81.27" width="58.78" height="3.73" fill="#e0a4e6"/><rect x="404.8" y="81.47" width="58.78" height="2.38" fill="#87428f"/><rect x="463.58" y="81.27" width="43.62" height="3.73" fill="#a4b6f2"/><rect x="463.58" y="81.47" width="43.62" height="2.38" fill="#3a4a9f"/><rect x="397.2" y="82.74" width="2.8" height="0.8" fill="#111"/><text x="393.4" y="84.29" font-size="3.7" text-anchor="end" fill="#333">33_WF</text><rect x="404.8" y="85.00" width="59.19" height="3.73" fill="#e0a4e6"/><rect x="404.8" y="85.20" width="59.19" height="2.38" fill="#87428f"/><rect x="463.99" y="85.00" width="43.21" height="3.73" fill="#a4b6f2"/><rect x="463.99" y="85.20" width="43.21" height="2.38" fill="#3a4a9f"/><rect x="397.2" y="86.46" width="2.8" height="0.8" fill="#111"/><text x="393.4" y="88.01" font-size="3.7" text-anchor="end" fill="#333">7_WF</text><rect x="404.8" y="88.73" width="59.90" height="3.73" fill="#e0a4e6"/><rect x="404.8" y="88.93" width="59.90" height="2.38" fill="#87428f"/><rect x="464.70" y="88.73" width="42.50" height="3.73" fill="#a4b6f2"/><rect x="464.70" y="88.93" width="42.50" height="2.38" fill="#3a4a9f"/><rect x="397.2" y="90.19" width="2.8" height="0.8" fill="#111"/><text x="393.4" y="91.74" font-size="3.7" text-anchor="end" fill="#333">60_WF</text><rect x="404.8" y="92.45" width="61.44" height="3.73" fill="#e0a4e6"/><rect x="404.8" y="92.66" width="61.44" height="2.38" fill="#87428f"/><rect x="466.24" y="92.45" width="40.96" height="3.73" fill="#a4b6f2"/><rect x="466.24" y="92.66" width="40.96" height="2.38" fill="#3a4a9f"/><rect x="397.2" y="93.92" width="2.8" height="0.8" fill="#111"/><text x="393.4" y="95.47" font-size="3.7" text-anchor="end" fill="#333">50_WF</text><rect x="404.8" y="96.18" width="62.77" height="3.73" fill="#e0a4e6"/><rect x="404.8" y="96.38" width="62.77" height="2.38" fill="#87428f"/><rect x="467.57" y="96.18" width="39.63" height="3.73" fill="#a4b6f2"/><rect x="467.57" y="96.38" width="39.63" height="2.38" fill="#3a4a9f"/><rect x="397.2" y="97.65" width="2.8" height="0.8" fill="#111"/><text x="393.4" y="99.20" font-size="3.7" text-anchor="end" fill="#333">16_WF</text><rect x="404.8" y="99.91" width="64.10" height="3.73" fill="#e0a4e6"/><rect x="404.8" y="100.11" width="64.10" height="2.38" fill="#87428f"/><rect x="468.90" y="99.91" width="38.30" height="3.73" fill="#a4b6f2"/><rect x="468.90" y="100.11" width="38.30" height="2.38" fill="#3a4a9f"/><rect x="397.2" y="101.37" width="2.8" height="0.8" fill="#111"/><text x="393.4" y="102.92" font-size="3.7" text-anchor="end" fill="#333">19_WF</text><rect x="404.8" y="103.64" width="65.54" height="3.73" fill="#e0a4e6"/><rect x="404.8" y="103.84" width="65.54" height="2.38" fill="#87428f"/><rect x="470.34" y="103.64" width="36.86" height="3.73" fill="#a4b6f2"/><rect x="470.34" y="103.84" width="36.86" height="2.38" fill="#3a4a9f"/><rect x="397.2" y="105.10" width="2.8" height="0.8" fill="#111"/><text x="393.4" y="106.65" font-size="3.7" text-anchor="end" fill="#333">12_WF</text><rect x="404.8" y="107.36" width="67.58" height="3.73" fill="#e0a4e6"/><rect x="404.8" y="107.56" width="67.58" height="2.38" fill="#87428f"/><rect x="472.38" y="107.36" width="34.82" height="3.73" fill="#a4b6f2"/><rect x="472.38" y="107.56" width="34.82" height="2.38" fill="#3a4a9f"/><rect x="397.2" y="108.83" width="2.8" height="0.8" fill="#111"/><text x="393.4" y="110.38" font-size="3.7" text-anchor="end" fill="#333">45_WF</text><rect x="404.8" y="111.09" width="70.25" height="3.73" fill="#e0a4e6"/><rect x="404.8" y="111.29" width="70.25" height="2.38" fill="#87428f"/><rect x="475.05" y="111.09" width="32.15" height="3.73" fill="#a4b6f2"/><rect x="475.05" y="111.29" width="32.15" height="2.38" fill="#3a4a9f"/><rect x="397.2" y="112.55" width="2.8" height="0.8" fill="#111"/><text x="393.4" y="114.10" font-size="3.7" text-anchor="end" fill="#333">10_WF</text><rect x="404.8" y="114.82" width="74.24" height="3.73" fill="#e0a4e6"/><rect x="404.8" y="115.02" width="74.24" height="2.38" fill="#87428f"/><rect x="479.04" y="114.82" width="28.16" height="3.73" fill="#a4b6f2"/><rect x="479.04" y="115.02" width="28.16" height="2.38" fill="#3a4a9f"/><rect x="397.2" y="116.28" width="2.8" height="0.8" fill="#111"/><text x="393.4" y="117.83" font-size="3.7" text-anchor="end" fill="#333">1_WF</text><rect x="404.8" y="118.54" width="76.39" height="3.73" fill="#e0a4e6"/><rect x="404.8" y="118.74" width="76.39" height="2.38" fill="#87428f"/><rect x="481.19" y="118.54" width="26.01" height="3.73" fill="#a4b6f2"/><rect x="481.19" y="118.74" width="26.01" height="2.38" fill="#3a4a9f"/><rect x="397.2" y="120.01" width="2.8" height="0.8" fill="#111"/><text x="393.4" y="121.56" font-size="3.7" text-anchor="end" fill="#333">58_WF</text><rect x="404.8" y="122.27" width="78.54" height="3.73" fill="#e0a4e6"/><rect x="404.8" y="122.47" width="78.54" height="2.38" fill="#87428f"/><rect x="483.34" y="122.27" width="23.86" height="3.73" fill="#a4b6f2"/><rect x="483.34" y="122.47" width="23.86" height="2.38" fill="#3a4a9f"/><rect x="397.2" y="123.73" width="2.8" height="0.8" fill="#111"/><text x="393.4" y="125.28" font-size="3.7" text-anchor="end" fill="#333">18_WF</text><rect x="404.8" y="126.00" width="79.56" height="3.73" fill="#e0a4e6"/><rect x="404.8" y="126.20" width="79.56" height="2.38" fill="#87428f"/><rect x="484.36" y="126.00" width="22.84" height="3.73" fill="#a4b6f2"/><rect x="484.36" y="126.20" width="22.84" height="2.38" fill="#3a4a9f"/><rect x="397.2" y="127.46" width="2.8" height="0.8" fill="#111"/><text x="393.4" y="129.01" font-size="3.7" text-anchor="end" fill="#333">56_WF</text><rect x="404.8" y="129.72" width="81.92" height="3.73" fill="#e0a4e6"/><rect x="404.8" y="129.92" width="81.92" height="2.38" fill="#87428f"/><rect x="486.72" y="129.72" width="20.48" height="3.73" fill="#a4b6f2"/><rect x="486.72" y="129.92" width="20.48" height="2.38" fill="#3a4a9f"/><rect x="397.2" y="131.19" width="2.8" height="0.8" fill="#111"/><text x="393.4" y="132.74" font-size="3.7" text-anchor="end" fill="#333">61_WF</text><rect x="404.8" y="133.45" width="83.25" height="3.73" fill="#e0a4e6"/><rect x="404.8" y="133.65" width="83.25" height="2.38" fill="#87428f"/><rect x="488.05" y="133.45" width="19.15" height="3.73" fill="#a4b6f2"/><rect x="488.05" y="133.65" width="19.15" height="2.38" fill="#3a4a9f"/><rect x="397.2" y="134.92" width="2.8" height="0.8" fill="#111"/><text x="393.4" y="136.47" font-size="3.7" text-anchor="end" fill="#333">8_WF</text><rect x="404.8" y="137.18" width="83.87" height="3.73" fill="#e0a4e6"/><rect x="404.8" y="137.38" width="83.87" height="2.38" fill="#87428f"/><rect x="488.67" y="137.18" width="18.53" height="3.73" fill="#a4b6f2"/><rect x="488.67" y="137.38" width="18.53" height="2.38" fill="#3a4a9f"/><rect x="397.2" y="138.64" width="2.8" height="0.8" fill="#111"/><text x="393.4" y="140.19" font-size="3.7" text-anchor="end" fill="#333">9_WF</text><rect x="404.8" y="140.91" width="86.43" height="3.73" fill="#e0a4e6"/><rect x="404.8" y="141.11" width="86.43" height="2.38" fill="#87428f"/><rect x="491.23" y="140.91" width="15.97" height="3.73" fill="#a4b6f2"/><rect x="491.23" y="141.11" width="15.97" height="2.38" fill="#3a4a9f"/><rect x="397.2" y="142.37" width="2.8" height="0.8" fill="#111"/><text x="393.4" y="143.92" font-size="3.7" text-anchor="end" fill="#333">27_WF</text><rect x="404.8" y="144.63" width="89.09" height="3.73" fill="#e0a4e6"/><rect x="404.8" y="144.83" width="89.09" height="2.38" fill="#87428f"/><rect x="493.89" y="144.63" width="13.31" height="3.73" fill="#a4b6f2"/><rect x="493.89" y="144.83" width="13.31" height="2.38" fill="#3a4a9f"/><rect x="397.2" y="146.10" width="2.8" height="0.8" fill="#111"/><text x="393.4" y="147.65" font-size="3.7" text-anchor="end" fill="#333">51_WF</text><rect x="404.8" y="148.36" width="90.32" height="3.73" fill="#e0a4e6"/><rect x="404.8" y="148.56" width="90.32" height="2.38" fill="#87428f"/><rect x="495.12" y="148.36" width="12.08" height="3.73" fill="#a4b6f2"/><rect x="495.12" y="148.56" width="12.08" height="2.38" fill="#3a4a9f"/><rect x="397.2" y="149.82" width="2.8" height="0.8" fill="#111"/><text x="393.4" y="151.37" font-size="3.7" text-anchor="end" fill="#333">15_WF</text><rect x="404.8" y="152.09" width="94.21" height="3.73" fill="#e0a4e6"/><rect x="404.8" y="152.29" width="94.21" height="2.38" fill="#87428f"/><rect x="499.01" y="152.09" width="8.19" height="3.73" fill="#a4b6f2"/><rect x="499.01" y="152.29" width="8.19" height="2.38" fill="#3a4a9f"/><rect x="397.2" y="153.55" width="2.8" height="0.8" fill="#111"/><text x="393.4" y="155.10" font-size="3.7" text-anchor="end" fill="#333">38_WF</text><rect x="404.8" y="155.81" width="97.38" height="3.73" fill="#e0a4e6"/><rect x="404.8" y="156.01" width="97.38" height="2.38" fill="#87428f"/><rect x="502.18" y="155.81" width="5.02" height="3.73" fill="#a4b6f2"/><rect x="502.18" y="156.01" width="5.02" height="2.38" fill="#3a4a9f"/><rect x="397.2" y="157.28" width="2.8" height="0.8" fill="#111"/><text x="393.4" y="158.83" font-size="3.7" text-anchor="end" fill="#333">62_WF</text><rect x="404.8" y="159.54" width="99.33" height="3.73" fill="#e0a4e6"/><rect x="404.8" y="159.74" width="99.33" height="2.38" fill="#87428f"/><rect x="504.13" y="159.54" width="3.07" height="3.73" fill="#a4b6f2"/><rect x="504.13" y="159.74" width="3.07" height="2.38" fill="#3a4a9f"/><rect x="397.2" y="161.00" width="2.8" height="0.8" fill="#111"/><text x="393.4" y="162.55" font-size="3.7" text-anchor="end" fill="#333">43_WF</text><rect x="404.8" y="163.27" width="101.38" height="3.73" fill="#e0a4e6"/><rect x="404.8" y="163.47" width="101.38" height="2.38" fill="#87428f"/><rect x="506.18" y="163.27" width="1.02" height="3.73" fill="#a4b6f2"/><rect x="506.18" y="163.47" width="1.02" height="2.38" fill="#3a4a9f"/><rect x="397.2" y="164.73" width="2.8" height="0.8" fill="#111"/><text x="393.4" y="166.28" font-size="3.7" text-anchor="end" fill="#333">39_WF</text><rect x="404.8" y="167.00" width="102.40" height="3.73" fill="#e0a4e6"/><rect x="404.8" y="167.19" width="102.40" height="2.38" fill="#87428f"/><rect x="397.2" y="168.46" width="2.8" height="0.8" fill="#111"/><text x="393.4" y="170.01" font-size="3.7" text-anchor="end" fill="#333">20_WF</text><rect x="404.8" y="170.72" width="102.40" height="3.73" fill="#e0a4e6"/><rect x="404.8" y="170.92" width="102.40" height="2.38" fill="#87428f"/><rect x="397.2" y="172.19" width="2.8" height="0.8" fill="#111"/><text x="393.4" y="173.74" font-size="3.7" text-anchor="end" fill="#333">2_WF</text><rect x="404.8" y="174.45" width="102.40" height="3.73" fill="#e0a4e6"/><rect x="404.8" y="174.65" width="102.40" height="2.38" fill="#87428f"/><rect x="397.2" y="175.91" width="2.8" height="0.8" fill="#111"/><text x="393.4" y="177.46" font-size="3.7" text-anchor="end" fill="#333">36_WF</text><rect x="404.80" y="178.18" width="102.40" height="3.73" fill="#a4b6f2"/><rect x="404.80" y="178.38" width="102.40" height="2.38" fill="#3a4a9f"/><rect x="397.2" y="179.64" width="2.8" height="0.8" fill="#111"/><text x="393.4" y="181.19" font-size="3.7" text-anchor="end" fill="#333">13_WF</text><rect x="404.8" y="181.90" width="5.12" height="3.73" fill="#e0a4e6"/><rect x="404.8" y="182.10" width="5.12" height="2.38" fill="#87428f"/><rect x="409.92" y="181.90" width="97.28" height="3.73" fill="#a4b6f2"/><rect x="409.92" y="182.10" width="97.28" height="2.38" fill="#3a4a9f"/><rect x="397.2" y="183.37" width="2.8" height="0.8" fill="#111"/><text x="393.4" y="184.92" font-size="3.7" text-anchor="end" fill="#333">4_WF</text><rect x="404.8" y="185.63" width="27.44" height="3.73" fill="#e0a4e6"/><rect x="404.8" y="185.83" width="27.44" height="2.38" fill="#87428f"/><rect x="432.24" y="185.63" width="74.96" height="3.73" fill="#a4b6f2"/><rect x="432.24" y="185.83" width="74.96" height="2.38" fill="#3a4a9f"/><rect x="397.2" y="187.09" width="2.8" height="0.8" fill="#111"/><text x="393.4" y="188.64" font-size="3.7" text-anchor="end" fill="#333">5_WF</text><rect x="404.8" y="189.36" width="27.44" height="3.73" fill="#e0a4e6"/><rect x="404.8" y="189.56" width="27.44" height="2.38" fill="#87428f"/><rect x="432.24" y="189.36" width="74.96" height="3.73" fill="#a4b6f2"/><rect x="432.24" y="189.56" width="74.96" height="2.38" fill="#3a4a9f"/><rect x="397.2" y="190.82" width="2.8" height="0.8" fill="#111"/><text x="393.4" y="192.37" font-size="3.7" text-anchor="end" fill="#333">25_WF</text><rect x="404.8" y="193.08" width="43.01" height="3.73" fill="#e0a4e6"/><rect x="404.8" y="193.28" width="43.01" height="2.38" fill="#87428f"/><rect x="447.81" y="193.08" width="59.39" height="3.73" fill="#a4b6f2"/><rect x="447.81" y="193.28" width="59.39" height="2.38" fill="#3a4a9f"/><rect x="397.2" y="194.55" width="2.8" height="0.8" fill="#111"/><text x="393.4" y="196.10" font-size="3.7" text-anchor="end" fill="#333">6_WF</text><rect x="404.8" y="196.81" width="43.01" height="3.73" fill="#e0a4e6"/><rect x="404.8" y="197.01" width="43.01" height="2.38" fill="#87428f"/><rect x="447.81" y="196.81" width="59.39" height="3.73" fill="#a4b6f2"/><rect x="447.81" y="197.01" width="59.39" height="2.38" fill="#3a4a9f"/><rect x="397.2" y="198.27" width="2.8" height="0.8" fill="#111"/><text x="393.4" y="199.82" font-size="3.7" text-anchor="end" fill="#333">26_WF</text><rect x="404.8" y="200.54" width="61.44" height="3.73" fill="#e0a4e6"/><rect x="404.8" y="200.74" width="61.44" height="2.38" fill="#87428f"/><rect x="466.24" y="200.54" width="40.96" height="3.73" fill="#a4b6f2"/><rect x="466.24" y="200.74" width="40.96" height="2.38" fill="#3a4a9f"/><rect x="397.2" y="202.00" width="2.8" height="0.8" fill="#111"/><text x="393.4" y="203.55" font-size="3.7" text-anchor="end" fill="#333">44_WF</text><rect x="404.8" y="204.26" width="87.04" height="3.73" fill="#e0a4e6"/><rect x="404.8" y="204.46" width="87.04" height="2.38" fill="#87428f"/><rect x="491.84" y="204.26" width="15.36" height="3.73" fill="#a4b6f2"/><rect x="491.84" y="204.46" width="15.36" height="2.38" fill="#3a4a9f"/><rect x="397.2" y="205.73" width="2.8" height="0.8" fill="#111"/><text x="393.4" y="207.28" font-size="3.7" text-anchor="end" fill="#333">21_WF</text><rect x="404.8" y="207.99" width="102.40" height="3.73" fill="#e0a4e6"/><rect x="404.8" y="208.19" width="102.40" height="2.38" fill="#87428f"/><rect x="397.2" y="209.46" width="2.8" height="0.8" fill="#111"/><text x="393.4" y="211.01" font-size="3.7" text-anchor="end" fill="#333">28_WF</text><rect x="404.80" y="211.72" width="102.40" height="3.73" fill="#a4b6f2"/><rect x="404.80" y="211.92" width="102.40" height="2.38" fill="#3a4a9f"/><rect x="397.2" y="213.18" width="2.8" height="0.8" fill="#111"/><text x="393.4" y="214.73" font-size="3.7" text-anchor="end" fill="#333">35_WF</text><rect x="404.80" y="215.45" width="102.40" height="3.73" fill="#a4b6f2"/><rect x="404.80" y="215.65" width="102.40" height="2.38" fill="#3a4a9f"/><rect x="397.2" y="216.91" width="2.8" height="0.8" fill="#111"/><text x="393.4" y="218.46" font-size="3.7" text-anchor="end" fill="#333">52_WF</text><rect x="404.80" y="219.17" width="102.40" height="3.73" fill="#a4b6f2"/><rect x="404.80" y="219.37" width="102.40" height="2.38" fill="#3a4a9f"/><rect x="397.2" y="220.64" width="2.8" height="0.8" fill="#111"/><text x="393.4" y="222.19" font-size="3.7" text-anchor="end" fill="#333">30_WF</text><rect x="404.8" y="222.90" width="6.14" height="3.73" fill="#e0a4e6"/><rect x="404.8" y="223.10" width="6.14" height="2.38" fill="#87428f"/><rect x="410.94" y="222.90" width="96.26" height="3.73" fill="#a4b6f2"/><rect x="410.94" y="223.10" width="96.26" height="2.38" fill="#3a4a9f"/><rect x="397.2" y="224.36" width="2.8" height="0.8" fill="#111"/><text x="393.4" y="225.91" font-size="3.7" text-anchor="end" fill="#333">32_WF</text><rect x="404.8" y="226.63" width="10.75" height="3.73" fill="#e0a4e6"/><rect x="404.8" y="226.83" width="10.75" height="2.38" fill="#87428f"/><rect x="415.55" y="226.63" width="91.65" height="3.73" fill="#a4b6f2"/><rect x="415.55" y="226.83" width="91.65" height="2.38" fill="#3a4a9f"/><rect x="397.2" y="228.09" width="2.8" height="0.8" fill="#111"/><text x="393.4" y="229.64" font-size="3.7" text-anchor="end" fill="#333">46_WF</text><rect x="404.8" y="230.35" width="10.75" height="3.73" fill="#e0a4e6"/><rect x="404.8" y="230.55" width="10.75" height="2.38" fill="#87428f"/><rect x="415.55" y="230.35" width="91.65" height="3.73" fill="#a4b6f2"/><rect x="415.55" y="230.55" width="91.65" height="2.38" fill="#3a4a9f"/><rect x="397.2" y="231.82" width="2.8" height="0.8" fill="#111"/><text x="393.4" y="233.37" font-size="3.7" text-anchor="end" fill="#333">47_WF</text><rect x="404.8" y="234.08" width="11.26" height="3.73" fill="#e0a4e6"/><rect x="404.8" y="234.28" width="11.26" height="2.38" fill="#87428f"/><rect x="416.06" y="234.08" width="91.14" height="3.73" fill="#a4b6f2"/><rect x="416.06" y="234.28" width="91.14" height="2.38" fill="#3a4a9f"/><rect x="397.2" y="235.54" width="2.8" height="0.8" fill="#111"/><text x="393.4" y="237.09" font-size="3.7" text-anchor="end" fill="#333">54_WF</text><rect x="404.8" y="237.81" width="12.80" height="3.73" fill="#e0a4e6"/><rect x="404.8" y="238.01" width="12.80" height="2.38" fill="#87428f"/><rect x="417.60" y="237.81" width="89.60" height="3.73" fill="#a4b6f2"/><rect x="417.60" y="238.01" width="89.60" height="2.38" fill="#3a4a9f"/><rect x="397.2" y="239.27" width="2.8" height="0.8" fill="#111"/><text x="393.4" y="240.82" font-size="3.7" text-anchor="end" fill="#333">37_WF</text><rect x="404.8" y="241.53" width="14.34" height="3.73" fill="#e0a4e6"/><rect x="404.8" y="241.73" width="14.34" height="2.38" fill="#87428f"/><rect x="419.14" y="241.53" width="88.06" height="3.73" fill="#a4b6f2"/><rect x="419.14" y="241.73" width="88.06" height="2.38" fill="#3a4a9f"/><rect x="397.2" y="243.00" width="2.8" height="0.8" fill="#111"/><text x="393.4" y="244.55" font-size="3.7" text-anchor="end" fill="#333">41_WF</text><rect x="404.8" y="245.26" width="16.90" height="3.73" fill="#e0a4e6"/><rect x="404.8" y="245.46" width="16.90" height="2.38" fill="#87428f"/><rect x="421.70" y="245.26" width="85.50" height="3.73" fill="#a4b6f2"/><rect x="421.70" y="245.46" width="85.50" height="2.38" fill="#3a4a9f"/><rect x="397.2" y="246.73" width="2.8" height="0.8" fill="#111"/><text x="393.4" y="248.28" font-size="3.7" text-anchor="end" fill="#333">23_WF</text><rect x="404.8" y="248.99" width="21.50" height="3.73" fill="#e0a4e6"/><rect x="404.8" y="249.19" width="21.50" height="2.38" fill="#87428f"/><rect x="426.30" y="248.99" width="80.90" height="3.73" fill="#a4b6f2"/><rect x="426.30" y="249.19" width="80.90" height="2.38" fill="#3a4a9f"/><rect x="397.2" y="250.45" width="2.8" height="0.8" fill="#111"/><text x="393.4" y="252.00" font-size="3.7" text-anchor="end" fill="#333">40_WF</text><rect x="404.8" y="252.72" width="26.62" height="3.73" fill="#e0a4e6"/><rect x="404.8" y="252.92" width="26.62" height="2.38" fill="#87428f"/><rect x="431.42" y="252.72" width="75.78" height="3.73" fill="#a4b6f2"/><rect x="431.42" y="252.92" width="75.78" height="2.38" fill="#3a4a9f"/><rect x="397.2" y="254.18" width="2.8" height="0.8" fill="#111"/><text x="393.4" y="255.73" font-size="3.7" text-anchor="end" fill="#333">48_WF</text><rect x="404.8" y="256.44" width="41.98" height="3.73" fill="#e0a4e6"/><rect x="404.8" y="256.64" width="41.98" height="2.38" fill="#87428f"/><rect x="446.78" y="256.44" width="60.42" height="3.73" fill="#a4b6f2"/><rect x="446.78" y="256.64" width="60.42" height="2.38" fill="#3a4a9f"/><rect x="397.2" y="257.91" width="2.8" height="0.8" fill="#111"/><text x="393.4" y="259.46" font-size="3.7" text-anchor="end" fill="#333">49_WF</text><rect x="404.8" y="260.17" width="48.13" height="3.73" fill="#e0a4e6"/><rect x="404.8" y="260.37" width="48.13" height="2.38" fill="#87428f"/><rect x="452.93" y="260.17" width="54.27" height="3.73" fill="#a4b6f2"/><rect x="452.93" y="260.37" width="54.27" height="2.38" fill="#3a4a9f"/><rect x="397.2" y="261.63" width="2.8" height="0.8" fill="#111"/><text x="393.4" y="263.18" font-size="3.7" text-anchor="end" fill="#333">53_WF</text><rect x="404.8" y="263.90" width="58.37" height="3.73" fill="#e0a4e6"/><rect x="404.8" y="264.10" width="58.37" height="2.38" fill="#87428f"/><rect x="463.17" y="263.90" width="44.03" height="3.73" fill="#a4b6f2"/><rect x="463.17" y="264.10" width="44.03" height="2.38" fill="#3a4a9f"/><rect x="397.2" y="265.36" width="2.8" height="0.8" fill="#111"/><text x="393.4" y="266.91" font-size="3.7" text-anchor="end" fill="#333">42_WF</text><rect x="404.8" y="267.62" width="62.46" height="3.73" fill="#e0a4e6"/><rect x="404.8" y="267.82" width="62.46" height="2.38" fill="#87428f"/><rect x="467.26" y="267.62" width="39.94" height="3.73" fill="#a4b6f2"/><rect x="467.26" y="267.82" width="39.94" height="2.38" fill="#3a4a9f"/><rect x="397.2" y="269.09" width="2.8" height="0.8" fill="#111"/><text x="393.4" y="270.64" font-size="3.7" text-anchor="end" fill="#333">59_WF</text><rect x="404.8" y="271.35" width="76.80" height="3.73" fill="#e0a4e6"/><rect x="404.8" y="271.55" width="76.80" height="2.38" fill="#87428f"/><rect x="481.60" y="271.35" width="25.60" height="3.73" fill="#a4b6f2"/><rect x="481.60" y="271.55" width="25.60" height="2.38" fill="#3a4a9f"/><rect x="397.2" y="272.81" width="2.8" height="0.8" fill="#111"/><text x="393.4" y="274.36" font-size="3.7" text-anchor="end" fill="#333">65_WF</text><rect x="404.8" y="275.08" width="79.87" height="3.73" fill="#e0a4e6"/><rect x="404.8" y="275.28" width="79.87" height="2.38" fill="#87428f"/><rect x="484.67" y="275.08" width="22.53" height="3.73" fill="#a4b6f2"/><rect x="484.67" y="275.28" width="22.53" height="2.38" fill="#3a4a9f"/><rect x="397.2" y="276.54" width="2.8" height="0.8" fill="#111"/><text x="393.4" y="278.09" font-size="3.7" text-anchor="end" fill="#333">64_WF</text><rect x="404.8" y="278.81" width="91.14" height="3.73" fill="#e0a4e6"/><rect x="404.8" y="279.00" width="91.14" height="2.38" fill="#87428f"/><rect x="495.94" y="278.81" width="11.26" height="3.73" fill="#a4b6f2"/><rect x="495.94" y="279.00" width="11.26" height="2.38" fill="#3a4a9f"/><rect x="397.2" y="280.27" width="2.8" height="0.8" fill="#111"/><text x="393.4" y="281.82" font-size="3.7" text-anchor="end" fill="#333">63_WF</text><rect x="404.8" y="282.53" width="102.40" height="3.73" fill="#e0a4e6"/><rect x="404.8" y="282.73" width="102.40" height="2.38" fill="#87428f"/><rect x="397.2" y="284.00" width="2.8" height="0.8" fill="#111"/><text x="393.4" y="285.55" font-size="3.7" text-anchor="end" fill="#333">66_WF</text><rect x="399.4" y="36.55" width="1.1" height="250.61" fill="#000"/><rect x="399.5" y="286.26" width="107.70" height="0.95" fill="#111"/><rect x="404.40" y="286.26" width="0.8" height="2.9" fill="#111"/><text x="404.80" y="298.0" font-size="5.95" text-anchor="middle" fill="#2a2a2a" stroke="#2a2a2a" stroke-width="0.14">0.00</text><rect x="430.00" y="286.26" width="0.8" height="2.9" fill="#111"/><text x="430.40" y="298.0" font-size="5.95" text-anchor="middle" fill="#2a2a2a" stroke="#2a2a2a" stroke-width="0.14">0.25</text><rect x="455.60" y="286.26" width="0.8" height="2.9" fill="#111"/><text x="456.00" y="298.0" font-size="5.95" text-anchor="middle" fill="#2a2a2a" stroke="#2a2a2a" stroke-width="0.14">0.50</text><rect x="481.20" y="286.26" width="0.8" height="2.9" fill="#111"/><text x="481.60" y="298.0" font-size="5.95" text-anchor="middle" fill="#2a2a2a" stroke="#2a2a2a" stroke-width="0.14">0.75</text><rect x="506.80" y="286.26" width="0.8" height="2.9" fill="#111"/><text x="507.20" y="298.0" font-size="5.95" text-anchor="middle" fill="#2a2a2a" stroke="#2a2a2a" stroke-width="0.14">1.00</text><rect x="368.6" y="36.55" width="7" height="141.35" fill="#e8734f"/><rect x="368.6" y="177.9" width="7" height="33.30" fill="#f5a45a"/><rect x="368.6" y="211.2" width="7" height="76.20" fill="#2ea84a"/><text transform="translate(364.3 108) rotate(-90)" font-size="5.6" text-anchor="middle" fill="#1e1e1e" stroke="#1e1e1e" stroke-width="0.14">High-risk</text><text transform="translate(357.1 194.8) rotate(-90)" font-size="5.6" text-anchor="middle" fill="#1e1e1e" stroke="#1e1e1e" stroke-width="0.14">Low-risk</text><text transform="translate(363.7 194.3) rotate(-90)" font-size="5.6" text-anchor="middle" fill="#1e1e1e" stroke="#1e1e1e" stroke-width="0.14">progressor</text><text transform="translate(364.6 249.3) rotate(-90)" font-size="5.6" text-anchor="middle" fill="#1e1e1e" stroke="#1e1e1e" stroke-width="0.14">Low-risk</text><rect x="409.7" y="303.4" width="5.0" height="5.0" fill="#87428f"/><text x="418" y="307.8" font-size="5.9" fill="#1e1e1e" stroke="#1e1e1e" stroke-width="0.14">UV light exposure (SBS7)</text><rect x="409.7" y="312.4" width="5.0" height="5.0" fill="#3a4a9f"/><text x="418" y="316.8" font-size="5.9" fill="#1e1e1e" stroke="#1e1e1e" stroke-width="0.14">Defective DNA repair (SBS15)</text><text x="69.8" y="373.4" font-size="6.2" font-style="italic" fill="#1e1e1e" stroke="#1e1e1e" stroke-width="0.14">JUNB</text><rect x="66.9" y="384.1" width="161.6" height="3.4" fill="#a9a9a9"/><rect x="70.5" y="382.8" width="115.4" height="5.7" fill="#9b59b6"/><rect x="194.2" y="382.7" width="28.6" height="5.8" fill="#3fae49"/><rect x="67.30" y="388.4" width="0.6" height="1.8" fill="#333"/><text x="67.60" y="398.2" font-size="5.6" text-anchor="middle" fill="#1e1e1e" stroke="#1e1e1e" stroke-width="0.14">0</text><rect x="90.80" y="388.4" width="0.6" height="1.8" fill="#333"/><text x="91.10" y="398.2" font-size="5.6" text-anchor="middle" fill="#1e1e1e" stroke="#1e1e1e" stroke-width="0.14">50</text><rect x="114.30" y="388.4" width="0.6" height="1.8" fill="#333"/><text x="114.60" y="398.2" font-size="5.6" text-anchor="middle" fill="#1e1e1e" stroke="#1e1e1e" stroke-width="0.14">100</text><rect x="137.80" y="388.4" width="0.6" height="1.8" fill="#333"/><text x="138.10" y="398.2" font-size="5.6" text-anchor="middle" fill="#1e1e1e" stroke="#1e1e1e" stroke-width="0.14">150</text><rect x="161.30" y="388.4" width="0.6" height="1.8" fill="#333"/><text x="161.60" y="398.2" font-size="5.6" text-anchor="middle" fill="#1e1e1e" stroke="#1e1e1e" stroke-width="0.14">200</text><rect x="184.80" y="388.4" width="0.6" height="1.8" fill="#333"/><text x="185.10" y="398.2" font-size="5.6" text-anchor="middle" fill="#1e1e1e" stroke="#1e1e1e" stroke-width="0.14">250</text><rect x="208.30" y="388.4" width="0.6" height="1.8" fill="#333"/><text x="208.60" y="398.2" font-size="5.6" text-anchor="middle" fill="#1e1e1e" stroke="#1e1e1e" stroke-width="0.14">300</text><rect x="199.0" y="377" width="0.6" height="6" fill="#999"/><circle cx="199.3" cy="378.00" r="1.2" fill="#f6c444" stroke="#e99a1e" stroke-width="0.4"/><circle cx="199.3" cy="375.25" r="1.2" fill="#f6c444" stroke="#e99a1e" stroke-width="0.4"/><circle cx="199.3" cy="372.50" r="1.2" fill="#f6c444" stroke="#e99a1e" stroke-width="0.4"/><circle cx="199.3" cy="369.75" r="1.2" fill="#f6c444" stroke="#e99a1e" stroke-width="0.4"/><circle cx="199.3" cy="367.00" r="1.2" fill="#f6c444" stroke="#e99a1e" stroke-width="0.4"/><circle cx="199.3" cy="364.25" r="1.2" fill="#f6c444" stroke="#e99a1e" stroke-width="0.4"/><text x="199.3" y="361.2" font-size="5.6" text-anchor="middle" fill="#1e1e1e" stroke="#1e1e1e" stroke-width="0.14">p.A282V</text><rect x="67.7" y="405" width="5.3" height="5.3" fill="#9b59b6"/><text x="76.3" y="409.6" font-size="5.72" fill="#1e1e1e" stroke="#1e1e1e" stroke-width="0.14">Jun-like transcription factor</text><rect x="67.7" y="414" width="5.3" height="5.3" fill="#3fae49"/><text x="76.3" y="418.6" font-size="5.8" fill="#1e1e1e" stroke="#1e1e1e" stroke-width="0.14">Basic region leucin zipper</text><text x="248.1" y="374.9" font-size="6.0" font-style="italic" fill="#1e1e1e" stroke="#1e1e1e" stroke-width="0.14">MAPK1</text><rect x="245.2" y="384.1" width="155.5" height="3.4" fill="#a9b5bd"/><rect x="248.3" y="382.8" width="4.3" height="5.6" fill="#8b6a45"/><rect x="255.7" y="382.8" width="119.8" height="5.4" fill="#1d4f8e"/><rect x="379.7" y="382.9" width="3.5" height="4.9" fill="#1d5e4f"/><rect x="384.2" y="382.9" width="3.2" height="4.9" fill="#4b2380"/><rect x="391.2" y="382.9" width="3.9" height="4.9" fill="#8b7055"/><rect x="244.20" y="388.4" width="0.6" height="1.8" fill="#333"/><text x="244.50" y="398.2" font-size="5.6" text-anchor="middle" fill="#1e1e1e" stroke="#1e1e1e" stroke-width="0.14">0</text><rect x="266.00" y="388.4" width="0.6" height="1.8" fill="#333"/><text x="266.30" y="398.2" font-size="5.6" text-anchor="middle" fill="#1e1e1e" stroke="#1e1e1e" stroke-width="0.14">50</text><rect x="287.80" y="388.4" width="0.6" height="1.8" fill="#333"/><text x="288.10" y="398.2" font-size="5.6" text-anchor="middle" fill="#1e1e1e" stroke="#1e1e1e" stroke-width="0.14">100</text><rect x="309.60" y="388.4" width="0.6" height="1.8" fill="#333"/><text x="309.90" y="398.2" font-size="5.6" text-anchor="middle" fill="#1e1e1e" stroke="#1e1e1e" stroke-width="0.14">150</text><rect x="331.40" y="388.4" width="0.6" height="1.8" fill="#333"/><text x="331.70" y="398.2" font-size="5.6" text-anchor="middle" fill="#1e1e1e" stroke="#1e1e1e" stroke-width="0.14">200</text><rect x="353.20" y="388.4" width="0.6" height="1.8" fill="#333"/><text x="353.50" y="398.2" font-size="5.6" text-anchor="middle" fill="#1e1e1e" stroke="#1e1e1e" stroke-width="0.14">250</text><rect x="375.00" y="388.4" width="0.6" height="1.8" fill="#333"/><text x="375.30" y="398.2" font-size="5.6" text-anchor="middle" fill="#1e1e1e" stroke="#1e1e1e" stroke-width="0.14">300</text><rect x="396.80" y="388.4" width="0.6" height="1.8" fill="#333"/><text x="397.10" y="398.2" font-size="5.6" text-anchor="middle" fill="#1e1e1e" stroke="#1e1e1e" stroke-width="0.14">350</text><rect x="376.05" y="378" width="0.5" height="4.8" fill="#aaa"/><circle cx="376.3" cy="377.9" r="1.2" fill="#f6c444" stroke="#e99a1e" stroke-width="0.35"/><circle cx="376.3" cy="374.9" r="1.2" fill="#f6c444" stroke="#e99a1e" stroke-width="0.35"/><rect x="380.65" y="378" width="0.5" height="4.8" fill="#aaa"/><circle cx="380.9" cy="378.2" r="1.2" fill="#f6c444" stroke="#e99a1e" stroke-width="0.35"/><rect x="385.75" y="378" width="0.5" height="4.8" fill="#aaa"/><circle cx="386.0" cy="378.2" r="1.2" fill="#f6c444" stroke="#e99a1e" stroke-width="0.35"/><text transform="translate(378.2 369) rotate(-90)" font-size="6" fill="#1e1e1e" stroke="#1e1e1e" stroke-width="0.14">p.D321N</text><text transform="translate(383.4 369) rotate(-90)" font-size="6" fill="#1e1e1e" stroke="#1e1e1e" stroke-width="0.14">p.E322K</text><text transform="translate(389.3 369) rotate(-90)" font-size="6" fill="#1e1e1e" stroke="#1e1e1e" stroke-width="0.14">p.E322Q</text><rect x="245.2" y="405" width="5.3" height="5.3" fill="#1d4f8e"/><text x="254" y="409.6" font-size="5.8" fill="#1e1e1e" stroke="#1e1e1e" stroke-width="0.14">Serine/Threonine protein kinase, catalytic domain</text><rect x="245.2" y="414.2" width="5.3" height="5.3" fill="#1d5e4f"/><text x="254" y="418.8" font-size="5.8" fill="#1e1e1e" stroke="#1e1e1e" stroke-width="0.14">Cytoplamic retention motif</text><rect x="386.6" y="405" width="5.3" height="5.3" fill="#4b2380"/><text x="395.8" y="409.6" font-size="5.8" fill="#1e1e1e" stroke="#1e1e1e" stroke-width="0.14">Nuclear translocation motif</text><rect x="386.6" y="414.2" width="5.3" height="5.3" fill="#8b7055"/><text x="395.8" y="418.8" font-size="5.8" fill="#1e1e1e" stroke="#1e1e1e" stroke-width="0.14">Low-complexity region</text><rect x="0.5" y="0.5" width="519" height="426" fill="none" stroke="#505050" stroke-width="1"/></g></svg></div>
</body></html>
